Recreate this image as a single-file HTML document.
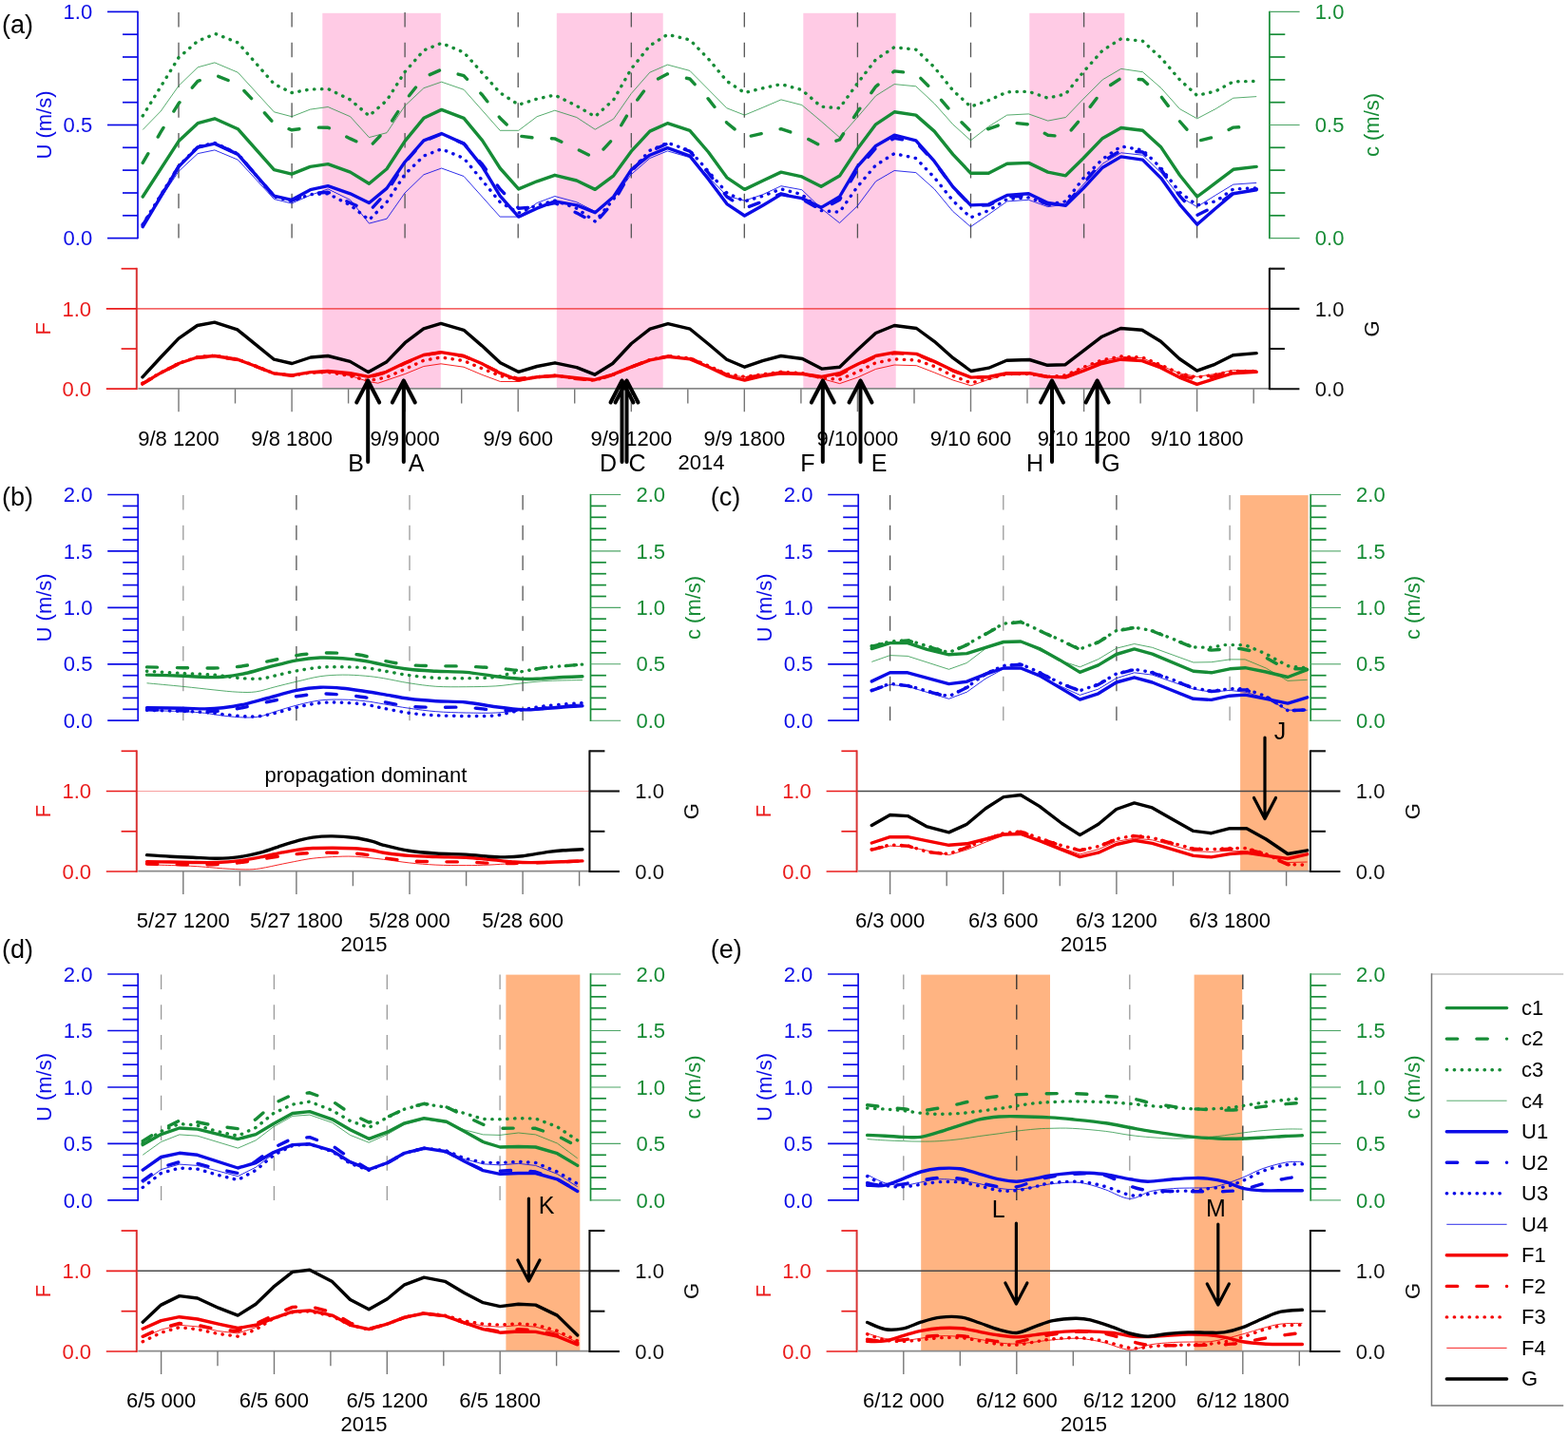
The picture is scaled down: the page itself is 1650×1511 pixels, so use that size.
<!DOCTYPE html>
<html lang="en"><head><meta charset="utf-8"><title>Figure</title>
<style>html,body{margin:0;padding:0;background:#fff;overflow:hidden;}svg{display:block;}</style></head>
<body>
<svg width="1650" height="1511" viewBox="0 0 1650 1511" font-family="'Liberation Sans', sans-serif">
<rect width="1650" height="1511" fill="#fff"/>
<g id="panel-a">
<rect x="339.3" y="13.8" width="124.5" height="394.6" fill="#ffcbe5"/>
<rect x="585.8" y="13.8" width="111.9" height="394.6" fill="#ffcbe5"/>
<rect x="845.3" y="13.8" width="97.4" height="394.6" fill="#ffcbe5"/>
<rect x="1083.3" y="13.8" width="100.0" height="394.6" fill="#ffcbe5"/>
<line x1="188.0" y1="12.9" x2="188.0" y2="250.6" stroke="#555" stroke-width="1.3" stroke-dasharray="15.5 16.3"/>
<line x1="307.1" y1="12.9" x2="307.1" y2="250.6" stroke="#555" stroke-width="1.3" stroke-dasharray="15.5 16.3"/>
<line x1="426.1" y1="12.9" x2="426.1" y2="250.6" stroke="#555" stroke-width="1.3" stroke-dasharray="15.5 16.3"/>
<line x1="545.2" y1="12.9" x2="545.2" y2="250.6" stroke="#555" stroke-width="1.3" stroke-dasharray="15.5 16.3"/>
<line x1="664.3" y1="12.9" x2="664.3" y2="250.6" stroke="#555" stroke-width="1.3" stroke-dasharray="15.5 16.3"/>
<line x1="783.3" y1="12.9" x2="783.3" y2="250.6" stroke="#555" stroke-width="1.3" stroke-dasharray="15.5 16.3"/>
<line x1="902.4" y1="12.9" x2="902.4" y2="250.6" stroke="#555" stroke-width="1.3" stroke-dasharray="15.5 16.3"/>
<line x1="1021.5" y1="12.9" x2="1021.5" y2="250.6" stroke="#555" stroke-width="1.3" stroke-dasharray="15.5 16.3"/>
<line x1="1140.6" y1="12.9" x2="1140.6" y2="250.6" stroke="#555" stroke-width="1.3" stroke-dasharray="15.5 16.3"/>
<line x1="1259.6" y1="12.9" x2="1259.6" y2="250.6" stroke="#555" stroke-width="1.3" stroke-dasharray="15.5 16.3"/>
<line x1="145.3" y1="408.9" x2="1335.9" y2="408.9" stroke="#8a8a8a" stroke-width="1.7" />
<line x1="188.0" y1="409.2" x2="188.0" y2="433.2" stroke="#777" stroke-width="1.4" />
<line x1="247.5" y1="409.2" x2="247.5" y2="424.5" stroke="#777" stroke-width="1.4" />
<line x1="307.1" y1="409.2" x2="307.1" y2="433.2" stroke="#777" stroke-width="1.4" />
<line x1="366.6" y1="409.2" x2="366.6" y2="424.5" stroke="#777" stroke-width="1.4" />
<line x1="426.1" y1="409.2" x2="426.1" y2="433.2" stroke="#777" stroke-width="1.4" />
<line x1="485.7" y1="409.2" x2="485.7" y2="424.5" stroke="#777" stroke-width="1.4" />
<line x1="545.2" y1="409.2" x2="545.2" y2="433.2" stroke="#777" stroke-width="1.4" />
<line x1="604.7" y1="409.2" x2="604.7" y2="424.5" stroke="#777" stroke-width="1.4" />
<line x1="664.3" y1="409.2" x2="664.3" y2="433.2" stroke="#777" stroke-width="1.4" />
<line x1="723.8" y1="409.2" x2="723.8" y2="424.5" stroke="#777" stroke-width="1.4" />
<line x1="783.3" y1="409.2" x2="783.3" y2="433.2" stroke="#777" stroke-width="1.4" />
<line x1="842.9" y1="409.2" x2="842.9" y2="424.5" stroke="#777" stroke-width="1.4" />
<line x1="902.4" y1="409.2" x2="902.4" y2="433.2" stroke="#777" stroke-width="1.4" />
<line x1="962.0" y1="409.2" x2="962.0" y2="424.5" stroke="#777" stroke-width="1.4" />
<line x1="1021.5" y1="409.2" x2="1021.5" y2="433.2" stroke="#777" stroke-width="1.4" />
<line x1="1081.0" y1="409.2" x2="1081.0" y2="424.5" stroke="#777" stroke-width="1.4" />
<line x1="1140.6" y1="409.2" x2="1140.6" y2="433.2" stroke="#777" stroke-width="1.4" />
<line x1="1200.1" y1="409.2" x2="1200.1" y2="424.5" stroke="#777" stroke-width="1.4" />
<line x1="1259.6" y1="409.2" x2="1259.6" y2="433.2" stroke="#777" stroke-width="1.4" />
<line x1="1319.2" y1="409.2" x2="1319.2" y2="424.5" stroke="#777" stroke-width="1.4" />
<line x1="143.8" y1="324.9" x2="1335.9" y2="324.9" stroke="#f03030" stroke-width="1.2" />
<path d="M150.2,136.5 L169.2,117.0 L188.0,90.3 L208.1,70.8 L225.9,65.9 L250.3,76.2 L288.4,117.8 L307.0,122.7 L326.5,115.1 L345.1,112.5 L368.6,122.7 L388.4,144.6 L407.0,139.7 L426.0,111.4 L445.9,92.7 L464.6,86.2 L488.1,94.3 L526.2,137.3 L545.7,137.3 L565.1,122.7 L583.8,116.2 L606.8,123.5 L626.2,136.2 L645.7,125.1 L664.3,98.4 L683.8,76.2 L702.4,68.1 L725.9,74.4 L764.9,113.8 L783.5,121.1 L803.0,113.0 L821.9,104.9 L843.8,110.5 L864.1,127.6 L883.5,144.6 L902.2,123.5 L921.6,100.8 L941.1,88.6 L963.8,90.8 L983.2,108.9 L1002.7,130.8 L1021.4,147.8 L1040.3,133.2 L1059.7,121.1 L1082.4,119.9 L1102.7,127.1 L1121.4,123.5 L1140.0,104.1 L1160.3,83.8 L1179.7,72.4 L1202.4,75.7 L1221.9,92.7 L1241.4,114.6 L1259.7,124.8 L1279.2,114.6 L1297.8,103.2 L1322.2,101.6" fill="none" stroke="#168c36" stroke-width="1.0" stroke-linejoin="round" stroke-opacity="0.72"/>
<path d="M150.2,207.0 L188.0,148.6 L208.1,129.7 L225.9,124.8 L250.3,135.7 L288.4,178.6 L307.0,183.2 L326.5,175.4 L345.1,172.6 L368.6,181.1 L388.4,193.2 L407.0,177.8 L426.0,148.6 L445.9,124.3 L464.6,115.4 L488.1,124.3 L507.6,147.8 L526.2,177.0 L545.7,198.9 L565.1,190.8 L583.8,184.3 L606.8,190.0 L626.2,199.4 L645.7,184.8 L664.3,159.2 L683.8,138.1 L702.4,129.7 L725.9,137.3 L745.4,160.0 L764.9,186.8 L783.5,199.4 L803.0,190.0 L821.9,181.1 L843.8,185.9 L864.1,196.2 L883.5,185.1 L902.2,156.8 L921.6,130.8 L941.1,117.8 L963.8,121.1 L983.2,138.1 L1002.7,162.4 L1021.4,182.2 L1040.3,182.2 L1059.7,172.2 L1082.4,171.4 L1102.7,181.1 L1121.4,184.8 L1140.0,166.5 L1160.3,145.4 L1179.7,134.5 L1202.4,137.3 L1221.9,155.1 L1241.4,184.3 L1259.7,207.0 L1279.2,192.4 L1297.8,178.3 L1322.2,175.4" fill="none" stroke="#168c36" stroke-width="3.4" stroke-linejoin="round" stroke-linecap="round"/>
<path d="M150.2,171.4 L169.2,138.9 L188.0,108.9 L208.1,85.4 L226.8,79.2 L250.3,88.6 L268.9,108.1 L288.4,130.0 L307.0,136.8 L326.5,134.1 L345.1,134.2 L368.6,145.9 L388.4,155.1 L407.0,135.7 L426.0,106.5 L445.9,81.4 L464.6,73.2 L488.1,79.7 L507.6,100.0 L526.2,124.3 L545.7,143.0 L565.1,145.4 L583.8,145.9 L606.8,156.8 L626.2,166.5 L645.7,145.4 L664.3,113.8 L683.8,87.5 L702.4,77.8 L725.9,83.0 L745.4,104.1 L764.9,129.2 L783.5,144.6 L803.0,140.2 L821.9,135.7 L843.8,143.0 L864.1,153.5 L883.5,147.0 L902.2,117.8 L921.6,91.1 L941.1,74.9 L963.8,77.3 L983.2,96.8 L1002.7,119.5 L1021.4,138.1 L1040.3,135.7 L1059.7,128.7 L1082.4,130.8 L1102.7,142.2 L1121.4,143.8 L1140.0,121.9 L1160.3,95.1 L1179.7,82.2 L1202.4,83.8 L1221.9,101.6 L1241.4,127.6 L1259.7,148.6 L1279.2,143.8 L1297.8,134.1 L1322.2,132.9" fill="none" stroke="#168c36" stroke-width="3.4" stroke-linejoin="round" stroke-dasharray="11.2 20.5" stroke-linecap="round"/>
<path d="M150.2,121.9 L188.0,60.6 L208.1,43.2 L226.8,35.6 L250.3,44.9 L288.4,88.3 L307.0,97.6 L326.5,94.0 L345.1,93.5 L368.6,104.9 L388.4,121.9 L407.0,105.7 L426.0,75.7 L445.9,53.0 L464.6,45.4 L488.1,55.1 L526.2,97.6 L545.7,110.2 L565.1,104.1 L583.8,100.0 L606.8,111.4 L626.2,122.7 L645.7,104.9 L664.3,72.4 L683.8,48.1 L702.4,36.3 L725.9,41.9 L745.4,61.9 L764.9,85.4 L783.5,97.6 L803.0,92.7 L821.9,88.6 L843.8,94.6 L864.1,112.2 L883.5,113.8 L902.2,87.8 L921.6,62.7 L941.1,49.7 L963.8,52.2 L983.2,70.8 L1002.7,95.1 L1021.4,112.2 L1040.3,105.7 L1059.7,96.8 L1082.4,96.3 L1102.7,103.2 L1121.4,98.9 L1140.0,75.7 L1160.3,53.0 L1179.7,40.8 L1202.4,43.2 L1221.9,61.1 L1241.4,83.8 L1259.7,100.5 L1279.2,95.9 L1297.8,85.9 L1322.2,85.4" fill="none" stroke="#168c36" stroke-width="3.4" stroke-linejoin="round" stroke-dasharray="0.4 7.55" stroke-linecap="round"/>
<path d="M150.2,237.0 L188.0,180.3 L208.1,161.6 L225.9,157.9 L250.3,168.1 L288.4,209.5 L307.0,214.0 L326.5,205.4 L345.1,198.9 L368.6,210.3 L388.4,235.1 L407.0,230.2 L426.0,203.0 L445.9,183.8 L464.6,177.0 L488.1,185.5 L526.2,228.1 L545.7,228.1 L565.1,213.5 L583.8,206.5 L606.8,212.7 L626.2,222.4 L645.7,208.6 L664.3,183.5 L683.8,166.5 L702.4,158.9 L725.9,165.7 L764.9,206.2 L783.5,211.1 L803.0,204.6 L821.9,195.7 L843.8,199.7 L864.1,219.2 L883.5,234.6 L902.2,216.8 L921.6,190.8 L941.1,179.5 L963.8,181.6 L983.2,198.9 L1002.7,222.4 L1021.4,238.6 L1040.3,225.7 L1059.7,211.9 L1082.4,210.3 L1102.7,217.6 L1121.4,215.1 L1140.0,194.1 L1160.3,172.2 L1179.7,160.8 L1202.4,163.2 L1221.9,181.9 L1241.4,207.0 L1259.7,217.6 L1279.2,205.4 L1297.8,194.1 L1322.2,192.4" fill="none" stroke="#0c0ce6" stroke-width="1.0" stroke-linejoin="round" stroke-opacity="0.85"/>
<path d="M150.2,238.6 L188.0,175.4 L208.1,155.1 L225.9,151.1 L250.3,162.4 L288.4,206.2 L307.0,210.3 L326.5,199.7 L345.1,195.7 L368.6,203.8 L388.4,213.5 L407.0,198.1 L426.0,170.5 L445.9,147.8 L464.6,140.5 L488.1,151.1 L507.6,175.4 L526.2,206.2 L545.7,228.1 L565.1,219.2 L583.8,211.9 L606.8,215.9 L626.2,223.7 L645.7,207.0 L664.3,178.6 L683.8,163.2 L702.4,155.6 L725.9,164.1 L745.4,188.4 L764.9,214.6 L783.5,227.0 L803.0,215.9 L821.9,204.6 L843.8,208.6 L864.1,218.4 L883.5,207.0 L902.2,175.4 L921.6,153.5 L941.1,142.2 L963.8,147.8 L983.2,169.7 L1002.7,196.5 L1021.4,215.9 L1040.3,215.1 L1059.7,205.4 L1082.4,203.8 L1102.7,213.5 L1121.4,216.3 L1140.0,198.1 L1160.3,176.2 L1179.7,164.9 L1202.4,168.1 L1221.9,187.6 L1241.4,215.1 L1259.7,236.2 L1279.2,219.2 L1297.8,203.8 L1322.2,199.7" fill="none" stroke="#0c0ce6" stroke-width="3.4" stroke-linejoin="round" stroke-linecap="round"/>
<path d="M150.2,237.0 L188.0,175.1 L208.1,154.8 L225.9,150.8 L250.3,162.1 L288.4,206.5 L307.0,211.1 L326.5,203.8 L345.1,202.2 L368.6,213.5 L388.4,222.4 L407.0,202.2 L426.0,171.4 L445.9,148.6 L464.6,141.0 L488.1,151.1 L507.6,173.0 L526.2,198.9 L545.7,219.2 L565.1,217.6 L583.8,213.5 L606.8,224.1 L626.2,234.6 L645.7,212.7 L664.3,180.3 L683.8,159.2 L702.4,151.1 L725.9,159.2 L745.4,181.9 L764.9,207.0 L783.5,219.2 L803.0,211.9 L821.9,203.8 L843.8,209.5 L864.1,220.8 L883.5,210.3 L902.2,178.6 L921.6,155.9 L941.1,145.4 L963.8,149.5 L983.2,170.5 L1002.7,196.8 L1021.4,216.3 L1040.3,215.9 L1059.7,207.0 L1082.4,206.2 L1102.7,215.1 L1121.4,215.9 L1140.0,193.2 L1160.3,169.7 L1179.7,158.4 L1202.4,160.0 L1221.9,178.6 L1241.4,206.2 L1259.7,226.5 L1279.2,216.8 L1297.8,203.0 L1322.2,198.9" fill="none" stroke="#0c0ce6" stroke-width="3.4" stroke-linejoin="round" stroke-dasharray="11.2 20.5" stroke-linecap="round"/>
<path d="M150.2,236.2 L188.0,174.8 L208.1,154.3 L225.9,150.4 L250.3,161.8 L288.4,206.9 L307.0,211.6 L326.5,204.6 L345.1,203.8 L368.6,215.9 L388.4,231.4 L407.0,212.7 L426.0,183.5 L445.9,164.1 L464.6,156.8 L488.1,166.5 L507.6,190.0 L526.2,212.7 L545.7,224.1 L565.1,215.9 L583.8,211.1 L606.8,219.2 L626.2,233.0 L645.7,209.5 L664.3,179.5 L683.8,158.4 L702.4,150.3 L725.9,158.4 L745.4,180.3 L764.9,203.0 L783.5,211.9 L803.0,206.2 L821.9,198.9 L843.8,204.6 L864.1,221.6 L883.5,223.2 L902.2,196.5 L921.6,173.8 L941.1,161.6 L963.8,166.5 L983.2,186.8 L1002.7,211.1 L1021.4,228.9 L1040.3,221.6 L1059.7,209.5 L1082.4,207.8 L1102.7,215.1 L1121.4,211.9 L1140.0,187.6 L1160.3,167.3 L1179.7,154.0 L1202.4,157.9 L1221.9,177.0 L1241.4,202.2 L1259.7,215.9 L1279.2,211.9 L1297.8,198.9 L1322.2,197.8" fill="none" stroke="#0c0ce6" stroke-width="3.4" stroke-linejoin="round" stroke-dasharray="0.4 7.55" stroke-linecap="round"/>
<path d="M149.9,403.5 L169.1,392.6 L188.0,383.0 L207.6,376.4 L225.8,375.0 L249.8,378.5 L269.5,385.7 L288.4,393.5 L307.3,395.3 L326.9,392.3 L345.1,391.6 L368.4,395.3 L387.6,401.5 L397.8,403.2 L426.2,393.5 L445.8,385.5 L464.0,382.8 L488.0,386.2 L506.9,394.2 L526.5,401.5 L545.5,401.5 L565.1,397.1 L584.0,395.6 L606.9,398.0 L625.8,400.0 L644.7,394.5 L664.4,386.3 L684.0,379.1 L702.9,375.4 L726.2,377.6 L745.8,385.7 L764.7,394.2 L783.6,396.8 L802.5,393.6 L821.8,391.0 L844.4,392.4 L864.7,398.5 L883.6,403.6 L902.5,397.1 L921.5,388.4 L941.1,384.0 L964.4,384.7 L983.3,392.0 L1002.9,400.0 L1021.8,405.8 L1040.4,399.3 L1059.3,393.9 L1083.3,393.7 L1102.2,396.7 L1121.1,395.3 L1140.7,386.9 L1159.6,379.6 L1179.3,375.7 L1201.8,376.7 L1221.5,384.7 L1241.1,392.7 L1259.6,396.4 L1278.5,393.5 L1297.5,389.5 L1322.2,389.8" fill="none" stroke="#f40000" stroke-width="1.0" stroke-linejoin="round" stroke-opacity="0.85"/>
<path d="M149.9,403.6 L169.1,392.4 L188.0,382.5 L207.6,376.0 L225.8,374.5 L249.8,378.2 L269.5,385.5 L288.4,393.0 L307.3,394.9 L326.9,391.6 L345.1,390.5 L368.4,392.7 L387.6,396.4 L406.5,391.3 L426.2,381.8 L445.8,373.5 L464.0,370.6 L488.0,374.5 L506.9,382.5 L526.5,392.7 L545.5,400.0 L565.1,396.8 L584.0,395.3 L606.9,397.8 L625.8,399.7 L644.7,394.2 L664.4,386.2 L684.0,378.9 L702.9,375.3 L726.2,377.9 L745.8,386.2 L764.7,395.3 L783.6,400.0 L802.5,395.6 L821.8,392.7 L844.4,393.5 L864.7,396.4 L883.6,392.7 L902.5,383.3 L921.5,374.5 L941.1,370.9 L964.4,372.4 L983.3,380.4 L1002.9,389.8 L1021.8,397.1 L1040.4,396.4 L1059.3,392.7 L1083.3,392.7 L1102.2,396.4 L1121.1,397.1 L1140.7,389.8 L1159.6,382.5 L1179.3,378.2 L1201.8,379.6 L1221.5,386.9 L1241.1,397.1 L1259.6,404.4 L1278.5,398.5 L1297.5,392.7 L1322.2,391.3" fill="none" stroke="#f40000" stroke-width="3.4" stroke-linejoin="round" stroke-linecap="round"/>
<path d="M149.9,404.1 L169.1,392.7 L188.0,382.8 L207.6,376.3 L225.8,374.8 L249.8,378.5 L269.5,385.7 L288.4,393.3 L307.3,395.2 L326.9,392.0 L345.1,391.0 L368.4,393.5 L387.6,397.1 L406.5,391.9 L426.2,382.3 L445.8,373.8 L464.0,370.9 L488.0,374.8 L506.9,382.8 L526.5,392.4 L545.5,398.5 L565.1,396.5 L584.0,395.6 L606.9,398.5 L625.8,400.4 L644.7,394.5 L664.4,386.2 L684.0,378.6 L702.9,374.8 L726.2,377.2 L745.8,385.5 L764.7,394.2 L783.6,397.8 L802.5,394.5 L821.8,392.3 L844.4,393.5 L864.7,397.1 L883.6,394.2 L902.5,384.3 L921.5,375.3 L941.1,371.6 L964.4,372.9 L983.3,380.8 L1002.9,390.1 L1021.8,397.4 L1040.4,396.7 L1059.3,393.2 L1083.3,393.2 L1102.2,396.5 L1121.1,396.7 L1140.7,388.7 L1159.6,381.1 L1179.3,376.7 L1201.8,377.9 L1221.5,385.5 L1241.1,394.9 L1259.6,399.3 L1278.5,395.6 L1297.5,391.3 L1322.2,391.0" fill="none" stroke="#f40000" stroke-width="3.4" stroke-linejoin="round" stroke-dasharray="11.2 20.5" stroke-linecap="round"/>
<path d="M149.9,403.2 L169.1,392.1 L188.0,382.3 L207.6,375.7 L225.8,374.1 L249.8,377.9 L269.5,385.2 L288.4,393.0 L307.3,395.2 L326.9,392.1 L345.1,391.6 L368.4,395.6 L387.6,400.7 L406.5,397.1 L426.2,388.4 L445.8,379.3 L464.0,376.0 L488.0,379.6 L506.9,387.6 L526.5,395.6 L545.5,399.3 L565.1,396.7 L584.0,395.2 L606.9,398.3 L625.8,400.3 L644.7,394.3 L664.4,386.0 L684.0,378.5 L702.9,374.7 L726.2,376.9 L745.8,385.0 L764.7,393.5 L783.6,396.4 L802.5,393.9 L821.8,391.3 L844.4,392.7 L864.7,397.8 L883.6,399.3 L902.5,391.3 L921.5,381.8 L941.1,377.9 L964.4,378.9 L983.3,385.5 L1002.9,395.6 L1021.8,402.9 L1040.4,398.5 L1059.3,393.5 L1083.3,393.5 L1102.2,396.4 L1121.1,394.9 L1140.7,386.2 L1159.6,378.9 L1179.3,375.0 L1201.8,376.0 L1221.5,384.0 L1241.1,392.7 L1259.6,397.1 L1278.5,394.2 L1297.5,390.5 L1322.2,390.5" fill="none" stroke="#f40000" stroke-width="3.4" stroke-linejoin="round" stroke-dasharray="0.4 7.55" stroke-linecap="round"/>
<path d="M149.9,396.8 L169.1,376.0 L188.0,356.1 L207.6,342.5 L225.8,339.2 L249.8,346.9 L269.5,362.9 L288.4,378.2 L307.3,382.5 L326.9,376.0 L345.1,374.5 L368.4,380.4 L387.6,391.6 L406.5,381.1 L426.2,360.7 L445.8,345.9 L464.0,340.4 L488.0,347.3 L506.9,363.6 L526.5,381.8 L545.5,391.3 L565.1,385.5 L584.0,381.8 L606.9,386.6 L625.8,394.2 L644.7,382.5 L664.4,361.5 L684.0,346.2 L702.9,340.7 L726.2,346.2 L745.8,362.2 L764.7,378.2 L783.6,386.2 L802.5,379.6 L821.8,374.5 L844.4,377.5 L864.7,388.1 L883.6,386.2 L902.5,368.0 L921.5,350.5 L941.1,342.5 L964.4,345.5 L983.3,359.3 L1002.9,376.7 L1021.8,390.5 L1040.4,387.2 L1059.3,379.3 L1083.3,378.5 L1102.2,384.3 L1121.1,383.7 L1140.7,368.7 L1159.6,354.2 L1179.3,345.5 L1201.8,347.3 L1221.5,359.3 L1241.1,377.5 L1259.6,390.1 L1278.5,383.3 L1297.5,373.8 L1322.2,371.6" fill="none" stroke="#000000" stroke-width="3.4" stroke-linejoin="round" stroke-linecap="round"/>
<line x1="145.0" y1="11.7" x2="145.0" y2="251.3" stroke="#0c0ce6" stroke-width="1.7" />
<line x1="145.0" y1="250.6" x2="113.0" y2="250.6" stroke="#0c0ce6" stroke-width="1.7" />
<line x1="145.0" y1="226.8" x2="129.0" y2="226.8" stroke="#0c0ce6" stroke-width="1.7" />
<line x1="145.0" y1="203.0" x2="129.0" y2="203.0" stroke="#0c0ce6" stroke-width="1.7" />
<line x1="145.0" y1="179.1" x2="129.0" y2="179.1" stroke="#0c0ce6" stroke-width="1.7" />
<line x1="145.0" y1="155.3" x2="129.0" y2="155.3" stroke="#0c0ce6" stroke-width="1.7" />
<line x1="145.0" y1="131.5" x2="113.0" y2="131.5" stroke="#0c0ce6" stroke-width="1.7" />
<line x1="145.0" y1="107.7" x2="129.0" y2="107.7" stroke="#0c0ce6" stroke-width="1.7" />
<line x1="145.0" y1="83.9" x2="129.0" y2="83.9" stroke="#0c0ce6" stroke-width="1.7" />
<line x1="145.0" y1="60.0" x2="129.0" y2="60.0" stroke="#0c0ce6" stroke-width="1.7" />
<line x1="145.0" y1="36.2" x2="129.0" y2="36.2" stroke="#0c0ce6" stroke-width="1.7" />
<line x1="145.0" y1="12.4" x2="113.0" y2="12.4" stroke="#0c0ce6" stroke-width="1.7" />
<text transform="translate(97.2,258.2) scale(1,1.03)" fill="#0c0ce6" font-size="22" text-anchor="end">0.0</text>
<text transform="translate(97.2,139.2) scale(1,1.03)" fill="#0c0ce6" font-size="22" text-anchor="end">0.5</text>
<text transform="translate(97.2,20.1) scale(1,1.03)" fill="#0c0ce6" font-size="22" text-anchor="end">1.0</text>
<text transform="translate(54.0,131.5) rotate(-90) scale(1,1.03)" fill="#0c0ce6" font-size="22" text-anchor="middle">U (m/s)</text>
<line x1="1335.9" y1="11.7" x2="1335.9" y2="251.3" stroke="#168c36" stroke-width="1.7" />
<line x1="1335.9" y1="250.6" x2="1367.6" y2="250.6" stroke="#4da566" stroke-width="1.1" />
<line x1="1335.9" y1="226.8" x2="1352.3" y2="226.8" stroke="#168c36" stroke-width="1.7" />
<line x1="1335.9" y1="203.0" x2="1352.3" y2="203.0" stroke="#168c36" stroke-width="1.7" />
<line x1="1335.9" y1="179.1" x2="1352.3" y2="179.1" stroke="#168c36" stroke-width="1.7" />
<line x1="1335.9" y1="155.3" x2="1352.3" y2="155.3" stroke="#168c36" stroke-width="1.7" />
<line x1="1335.9" y1="131.5" x2="1367.6" y2="131.5" stroke="#4da566" stroke-width="1.1" />
<line x1="1335.9" y1="107.7" x2="1352.3" y2="107.7" stroke="#168c36" stroke-width="1.7" />
<line x1="1335.9" y1="83.9" x2="1352.3" y2="83.9" stroke="#168c36" stroke-width="1.7" />
<line x1="1335.9" y1="60.0" x2="1352.3" y2="60.0" stroke="#168c36" stroke-width="1.7" />
<line x1="1335.9" y1="36.2" x2="1352.3" y2="36.2" stroke="#168c36" stroke-width="1.7" />
<line x1="1335.9" y1="12.4" x2="1367.6" y2="12.4" stroke="#4da566" stroke-width="1.1" />
<text transform="translate(1383.8,258.2) scale(1,1.03)" fill="#168c36" font-size="22" text-anchor="start">0.0</text>
<text transform="translate(1383.8,139.2) scale(1,1.03)" fill="#168c36" font-size="22" text-anchor="start">0.5</text>
<text transform="translate(1383.8,20.1) scale(1,1.03)" fill="#168c36" font-size="22" text-anchor="start">1.0</text>
<text transform="translate(1450.9,131.5) rotate(-90) scale(1,1.03)" fill="#168c36" font-size="22" text-anchor="middle">c (m/s)</text>
<line x1="143.8" y1="281.8" x2="143.8" y2="410.1" stroke="#d83434" stroke-width="2.0" />
<line x1="143.8" y1="409.2" x2="111.8" y2="409.2" stroke="#ea1c1c" stroke-width="1.7" />
<line x1="143.8" y1="367.0" x2="127.6" y2="367.0" stroke="#ea1c1c" stroke-width="1.7" />
<line x1="143.8" y1="324.9" x2="111.8" y2="324.9" stroke="#ea1c1c" stroke-width="1.7" />
<line x1="143.8" y1="282.7" x2="127.6" y2="282.7" stroke="#ea1c1c" stroke-width="1.7" />
<text transform="translate(96.0,416.8) scale(1,1.03)" fill="#ea1c1c" font-size="22" text-anchor="end">0.0</text>
<text transform="translate(96.0,332.5) scale(1,1.03)" fill="#ea1c1c" font-size="22" text-anchor="end">1.0</text>
<text transform="translate(52.8,345.9) rotate(-90) scale(1,1.03)" fill="#ea1c1c" font-size="22" text-anchor="middle">F</text>
<line x1="1335.9" y1="281.8" x2="1335.9" y2="410.1" stroke="#111" stroke-width="2.1" />
<line x1="1335.9" y1="409.2" x2="1367.4" y2="409.2" stroke="#111" stroke-width="2.1" />
<line x1="1335.9" y1="367.0" x2="1351.9" y2="367.0" stroke="#111" stroke-width="2.1" />
<line x1="1335.9" y1="324.9" x2="1367.4" y2="324.9" stroke="#111" stroke-width="2.1" />
<line x1="1335.9" y1="282.7" x2="1351.9" y2="282.7" stroke="#111" stroke-width="2.1" />
<text transform="translate(1383.8,416.8) scale(1,1.03)" fill="#111" font-size="22" text-anchor="start">0.0</text>
<text transform="translate(1383.8,332.5) scale(1,1.03)" fill="#111" font-size="22" text-anchor="start">1.0</text>
<text transform="translate(1450.9,345.9) rotate(-90) scale(1,1.03)" fill="#111" font-size="22" text-anchor="middle">G</text>
<text transform="translate(188.0,468.5) scale(1,1.03)" fill="#000" font-size="22" text-anchor="middle">9/8 1200</text>
<text transform="translate(307.1,468.5) scale(1,1.03)" fill="#000" font-size="22" text-anchor="middle">9/8 1800</text>
<text transform="translate(426.1,468.5) scale(1,1.03)" fill="#000" font-size="22" text-anchor="middle">9/9 000</text>
<text transform="translate(545.2,468.5) scale(1,1.03)" fill="#000" font-size="22" text-anchor="middle">9/9 600</text>
<text transform="translate(664.3,468.5) scale(1,1.03)" fill="#000" font-size="22" text-anchor="middle">9/9 1200</text>
<text transform="translate(783.3,468.5) scale(1,1.03)" fill="#000" font-size="22" text-anchor="middle">9/9 1800</text>
<text transform="translate(902.4,468.5) scale(1,1.03)" fill="#000" font-size="22" text-anchor="middle">9/10 000</text>
<text transform="translate(1021.5,468.5) scale(1,1.03)" fill="#000" font-size="22" text-anchor="middle">9/10 600</text>
<text transform="translate(1140.6,468.5) scale(1,1.03)" fill="#000" font-size="22" text-anchor="middle">9/10 1200</text>
<text transform="translate(1259.6,468.5) scale(1,1.03)" fill="#000" font-size="22" text-anchor="middle">9/10 1800</text>
<text transform="translate(738.0,494.1) scale(1,1.03)" fill="#000" font-size="22" text-anchor="middle">2014</text>
<text transform="translate(2.0,35.0) scale(1,1.0)" fill="#000" font-size="27" text-anchor="start">(a)</text>
</g>
<g id="panel-b">
<line x1="192.8" y1="521.0" x2="192.8" y2="758.2" stroke="#9a9a9a" stroke-width="1.3" stroke-dasharray="15.5 16.3"/>
<line x1="311.9" y1="521.0" x2="311.9" y2="758.2" stroke="#555" stroke-width="1.3" stroke-dasharray="15.5 16.3"/>
<line x1="431.0" y1="521.0" x2="431.0" y2="758.2" stroke="#9a9a9a" stroke-width="1.3" stroke-dasharray="15.5 16.3"/>
<line x1="550.1" y1="521.0" x2="550.1" y2="758.2" stroke="#555" stroke-width="1.3" stroke-dasharray="15.5 16.3"/>
<line x1="145.3" y1="916.7" x2="620.4" y2="916.7" stroke="#8a8a8a" stroke-width="1.7" />
<line x1="192.8" y1="917.0" x2="192.8" y2="941.0" stroke="#777" stroke-width="1.4" />
<line x1="252.4" y1="917.0" x2="252.4" y2="932.3" stroke="#777" stroke-width="1.4" />
<line x1="311.9" y1="917.0" x2="311.9" y2="941.0" stroke="#777" stroke-width="1.4" />
<line x1="371.4" y1="917.0" x2="371.4" y2="932.3" stroke="#777" stroke-width="1.4" />
<line x1="431.0" y1="917.0" x2="431.0" y2="941.0" stroke="#777" stroke-width="1.4" />
<line x1="490.6" y1="917.0" x2="490.6" y2="932.3" stroke="#777" stroke-width="1.4" />
<line x1="550.1" y1="917.0" x2="550.1" y2="941.0" stroke="#777" stroke-width="1.4" />
<line x1="609.6" y1="917.0" x2="609.6" y2="932.3" stroke="#777" stroke-width="1.4" />
<line x1="143.8" y1="832.5" x2="620.4" y2="832.5" stroke="#f7a0a0" stroke-width="1.2" />
<path d="M154.5,718.8 C160.9,719.4 181.0,721.2 192.8,722.4 C204.6,723.6 215.5,724.9 225.1,725.9 C234.7,726.9 243.0,727.9 250.3,728.2 C257.7,728.5 262.6,728.8 269.2,727.9 C275.8,727.0 282.5,724.5 289.7,722.7 C296.9,720.9 304.2,719.0 312.1,717.2 C320.0,715.4 328.9,712.9 337.0,711.7 C345.1,710.5 352.7,710.2 360.6,710.1 C368.5,710.0 377.0,710.6 384.2,711.2 C391.4,711.8 395.9,712.4 403.6,713.7 C411.4,715.0 421.5,717.4 430.7,718.8 C439.9,720.2 448.9,721.6 458.8,722.3 C468.7,722.9 479.8,722.8 490.3,722.7 C500.8,722.6 511.9,722.5 521.8,721.9 C531.7,721.2 540.7,719.7 549.9,718.8 C559.1,717.9 566.5,716.9 577.0,716.4 C587.5,715.9 606.9,715.7 612.9,715.6" fill="none" stroke="#168c36" stroke-width="1.0" stroke-linejoin="round" stroke-opacity="0.72"/>
<path d="M154.5,710.1 C160.9,710.3 182.6,710.8 192.8,711.2 C203.0,711.6 208.7,712.3 215.6,712.5 C222.5,712.7 227.4,712.9 234.5,712.2 C241.6,711.5 250.3,710.2 258.2,708.5 C266.1,706.8 272.8,704.5 281.8,702.2 C290.8,699.9 302.9,696.5 312.1,694.8 C321.3,693.1 328.9,692.3 337.0,692.0 C345.1,691.7 352.7,692.2 360.6,692.8 C368.5,693.4 377.0,694.4 384.2,695.5 C391.4,696.6 395.9,698.1 403.6,699.6 C411.4,701.1 421.5,703.2 430.7,704.3 C439.9,705.4 448.9,705.7 458.8,706.2 C468.7,706.7 479.8,706.5 490.3,707.4 C500.8,708.3 511.9,710.5 521.8,711.7 C531.7,712.9 542.0,714.0 549.9,714.4 C557.8,714.8 562.0,714.4 569.1,714.1 C576.2,713.8 585.4,712.9 592.7,712.5 C600.0,712.1 609.5,711.8 612.9,711.7" fill="none" stroke="#168c36" stroke-width="3.4" stroke-linejoin="round" stroke-linecap="round"/>
<path d="M154.5,701.9 C160.9,702.0 181.0,702.5 192.8,702.7 C204.6,702.9 215.5,703.2 225.1,703.0 C234.7,702.8 240.9,702.7 250.3,701.5 C259.8,700.3 271.5,697.9 281.8,695.9 C292.1,693.9 301.6,691.1 312.1,689.6 C322.6,688.1 334.1,687.1 344.8,687.0 C355.5,686.9 366.6,687.4 376.4,688.8 C386.2,690.2 394.6,693.4 403.6,695.2 C412.7,697.0 421.5,698.7 430.7,699.6 C439.9,700.5 448.9,700.5 458.8,700.7 C468.7,701.0 479.8,700.7 490.3,701.1 C500.8,701.5 511.9,702.3 521.8,703.0 C531.7,703.7 540.7,705.5 549.9,705.4 C559.1,705.3 566.5,703.2 577.0,702.2 C587.5,701.2 606.9,699.6 612.9,699.1" fill="none" stroke="#168c36" stroke-width="3.4" stroke-linejoin="round" stroke-dasharray="11.2 20.5" stroke-linecap="round"/>
<path d="M154.5,706.2 C160.9,706.6 181.0,707.9 192.8,708.5 C204.6,709.1 215.5,709.3 225.1,710.1 C234.7,710.9 242.2,712.6 250.3,713.3 C258.4,714.0 267.3,714.5 273.9,714.1 C280.5,713.7 283.3,712.3 289.7,710.9 C296.1,709.5 304.2,707.3 312.1,705.9 C320.0,704.5 328.9,702.9 337.0,702.2 C345.1,701.5 352.7,701.7 360.6,701.8 C368.5,701.9 377.0,702.0 384.2,702.7 C391.4,703.4 395.9,704.6 403.6,705.9 C411.4,707.2 421.5,709.4 430.7,710.6 C439.9,711.8 448.9,712.8 458.8,713.3 C468.7,713.8 480.3,713.8 490.3,713.7 C500.3,713.6 511.4,713.5 518.7,712.8 C526.1,712.1 529.2,710.3 534.4,709.3 C539.6,708.2 542.8,707.7 549.9,706.5 C557.0,705.3 566.5,703.4 577.0,702.2 C587.5,701.0 606.9,699.6 612.9,699.1" fill="none" stroke="#168c36" stroke-width="3.4" stroke-linejoin="round" stroke-dasharray="0.4 7.55" stroke-linecap="round"/>
<path d="M154.5,747.5 C160.9,747.7 182.6,748.2 192.8,748.7 C203.0,749.2 208.7,749.6 215.6,750.3 C222.5,751.0 227.4,752.3 234.5,753.1 C241.6,753.9 251.6,754.9 258.2,755.0 C264.8,755.1 268.6,754.8 273.9,753.8 C279.1,752.8 283.3,750.7 289.7,748.7 C296.1,746.8 304.2,744.1 312.1,742.1 C320.0,740.1 328.9,737.9 337.0,736.9 C345.1,735.9 352.7,736.0 360.6,736.1 C368.5,736.2 377.0,736.9 384.2,737.7 C391.4,738.5 395.9,739.5 403.6,740.8 C411.4,742.1 421.5,744.0 430.7,745.3 C439.9,746.6 448.9,747.9 458.8,748.7 C468.7,749.5 479.8,749.8 490.3,750.0 C500.8,750.2 511.9,750.5 521.8,750.0 C531.7,749.5 540.7,748.2 549.9,747.2 C559.1,746.2 566.5,745.1 577.0,744.0 C587.5,742.9 606.9,741.3 612.9,740.8" fill="none" stroke="#0c0ce6" stroke-width="1.0" stroke-linejoin="round" stroke-opacity="0.85"/>
<path d="M154.5,744.8 C160.9,744.9 182.6,745.1 192.8,745.3 C203.0,745.5 208.7,746.0 215.6,745.9 C222.5,745.8 227.4,745.6 234.5,744.8 C241.6,743.9 250.3,742.5 258.2,740.8 C266.1,739.1 272.8,736.9 281.8,734.5 C290.8,732.1 302.9,728.3 312.1,726.4 C321.3,724.5 328.9,723.6 337.0,723.2 C345.1,722.9 352.7,723.6 360.6,724.3 C368.5,725.0 377.0,726.5 384.2,727.5 C391.4,728.5 395.9,729.3 403.6,730.6 C411.4,731.9 421.5,734.1 430.7,735.3 C439.9,736.5 448.9,737.1 458.8,737.7 C468.7,738.3 479.8,738.0 490.3,739.0 C500.8,740.0 511.9,742.4 521.8,743.7 C531.7,745.0 542.0,746.4 549.9,746.8 C557.8,747.2 562.0,746.4 569.1,745.9 C576.2,745.4 585.4,744.5 592.7,744.0 C600.0,743.5 609.5,742.9 612.9,742.7" fill="none" stroke="#0c0ce6" stroke-width="3.4" stroke-linejoin="round" stroke-linecap="round"/>
<path d="M154.5,746.8 C160.9,747.0 181.0,747.6 192.8,747.9 C204.6,748.2 215.5,748.8 225.1,748.4 C234.7,748.0 240.9,747.2 250.3,745.6 C259.8,744.0 271.5,740.6 281.8,738.5 C292.1,736.4 302.9,734.1 312.1,732.7 C321.3,731.3 328.9,730.4 337.0,730.1 C345.1,729.8 352.7,730.5 360.6,731.1 C368.5,731.7 377.0,732.6 384.2,733.8 C391.4,735.0 395.9,736.9 403.6,738.5 C411.4,740.1 421.5,742.2 430.7,743.2 C439.9,744.2 448.9,744.1 458.8,744.3 C468.7,744.5 479.8,743.8 490.3,744.3 C500.8,744.8 511.9,746.7 521.8,747.2 C531.7,747.7 540.7,747.6 549.9,747.2 C559.1,746.8 566.5,745.6 577.0,744.8 C587.5,743.9 606.9,742.5 612.9,742.1" fill="none" stroke="#0c0ce6" stroke-width="3.4" stroke-linejoin="round" stroke-dasharray="11.2 20.5" stroke-linecap="round"/>
<path d="M154.5,747.2 C160.9,747.4 182.6,748.0 192.8,748.4 C203.0,748.8 208.7,749.0 215.6,749.5 C222.5,750.0 227.4,750.9 234.5,751.6 C241.6,752.3 251.6,753.5 258.2,753.8 C264.8,754.1 268.6,754.1 273.9,753.5 C279.1,752.9 283.3,751.8 289.7,750.3 C296.1,748.8 304.2,746.1 312.1,744.3 C320.0,742.5 328.9,740.4 337.0,739.6 C345.1,738.8 352.7,739.0 360.6,739.3 C368.5,739.6 377.0,740.2 384.2,741.2 C391.4,742.2 395.9,743.8 403.6,745.3 C411.4,746.8 421.5,749.1 430.7,750.3 C439.9,751.5 448.9,752.2 458.8,752.7 C468.7,753.2 480.3,753.4 490.3,753.5 C500.3,753.6 511.4,753.6 518.7,753.1 C526.1,752.6 529.2,751.3 534.4,750.3 C539.6,749.2 542.8,748.1 549.9,746.8 C557.0,745.5 566.5,743.6 577.0,742.4 C587.5,741.2 606.9,740.1 612.9,739.6" fill="none" stroke="#0c0ce6" stroke-width="3.4" stroke-linejoin="round" stroke-dasharray="0.4 7.55" stroke-linecap="round"/>
<path d="M154.5,909.8 C162.6,910.1 189.7,910.7 203.0,911.4 C216.3,912.1 225.3,913.2 234.5,913.8 C243.7,914.4 251.6,914.9 258.2,914.9 C264.8,914.9 267.3,914.8 273.9,913.8 C280.5,912.8 291.0,910.3 297.6,909.0 C304.2,907.7 308.1,906.9 313.3,905.9 C318.6,904.9 323.1,903.9 329.1,903.2 C335.2,902.5 342.2,901.9 349.6,901.6 C357.0,901.3 364.2,900.8 373.2,901.2 C382.2,901.7 394.0,903.2 403.6,904.3 C413.2,905.4 421.5,906.9 430.7,907.9 C439.9,908.9 448.9,909.6 458.8,910.1 C468.7,910.6 481.1,910.6 490.3,910.6 C499.5,910.6 506.0,910.4 513.9,910.1 C521.8,909.8 531.6,909.0 537.6,908.6 C543.6,908.2 544.6,908.0 549.9,907.8 C555.1,907.6 562.0,907.8 569.1,907.6 C576.2,907.4 585.4,907.0 592.7,906.7 C600.0,906.4 609.5,906.0 612.9,905.9" fill="none" stroke="#f40000" stroke-width="1.0" stroke-linejoin="round" stroke-opacity="0.85"/>
<path d="M154.5,906.7 C158.7,906.8 171.3,906.9 179.4,907.0 C187.5,907.1 194.9,907.4 203.0,907.5 C211.1,907.6 220.3,907.8 228.2,907.5 C236.1,907.2 242.7,906.8 250.3,905.9 C257.9,905.0 266.0,903.4 273.9,901.9 C281.8,900.4 291.0,898.2 297.6,896.9 C304.2,895.6 308.1,894.8 313.3,894.1 C318.6,893.4 323.1,892.8 329.1,892.5 C335.2,892.2 342.2,892.2 349.6,892.2 C357.0,892.2 366.1,892.4 373.2,892.8 C380.3,893.2 387.0,894.1 392.1,894.8 C397.2,895.5 397.2,896.3 403.6,897.2 C410.0,898.1 421.5,899.7 430.7,900.4 C439.9,901.1 448.9,901.3 458.8,901.6 C468.7,901.9 481.1,901.8 490.3,902.3 C499.5,902.8 506.0,903.6 513.9,904.3 C521.8,905.0 531.6,906.2 537.6,906.7 C543.6,907.2 544.6,907.4 549.9,907.5 C555.1,907.6 562.0,907.6 569.1,907.5 C576.2,907.4 585.4,907.0 592.7,906.7 C600.0,906.4 609.5,906.0 612.9,905.9" fill="none" stroke="#f40000" stroke-width="3.4" stroke-linejoin="round" stroke-linecap="round"/>
<path d="M154.5,909.0 C158.7,909.1 171.3,909.4 179.4,909.5 C187.5,909.6 194.9,909.8 203.0,909.8 C211.1,909.8 220.3,909.8 228.2,909.5 C236.1,909.2 242.7,908.8 250.3,907.9 C257.9,907.0 266.0,905.5 273.9,904.3 C281.8,903.0 291.0,901.4 297.6,900.4 C304.2,899.4 308.1,899.0 313.3,898.5 C318.6,898.0 323.1,897.7 329.1,897.5 C335.2,897.3 342.2,897.1 349.6,897.2 C357.0,897.3 366.1,897.5 373.2,898.0 C380.3,898.5 387.0,899.6 392.1,900.4 C397.2,901.2 397.2,901.8 403.6,902.7 C410.0,903.6 421.5,905.2 430.7,905.9 C439.9,906.6 448.9,906.5 458.8,906.7 C468.7,906.9 481.1,906.8 490.3,907.0 C499.5,907.2 506.0,907.9 513.9,908.2 C521.8,908.5 531.6,908.7 537.6,908.6 C543.6,908.5 544.6,908.0 549.9,907.8 C555.1,907.6 562.0,907.8 569.1,907.6 C576.2,907.4 585.4,907.1 592.7,906.8 C600.0,906.5 609.5,906.1 612.9,906.0" fill="none" stroke="#f40000" stroke-width="3.4" stroke-linejoin="round" stroke-dasharray="11.2 20.5" stroke-linecap="round"/>
<path d="M154.5,899.6 C158.7,899.9 171.3,900.8 179.4,901.2 C187.5,901.7 194.9,902.0 203.0,902.3 C211.1,902.6 220.3,903.3 228.2,903.2 C236.1,903.1 242.7,902.9 250.3,901.9 C257.9,900.9 266.0,899.3 273.9,897.2 C281.8,895.1 291.0,891.4 297.6,889.3 C304.2,887.2 308.1,886.0 313.3,884.6 C318.6,883.2 323.1,881.9 329.1,881.1 C335.2,880.3 342.2,879.8 349.6,879.9 C357.0,880.0 366.1,880.6 373.2,881.5 C380.3,882.4 387.0,884.1 392.1,885.4 C397.2,886.7 397.2,887.6 403.6,889.3 C410.0,890.9 421.5,893.8 430.7,895.3 C439.9,896.8 448.9,897.4 458.8,898.0 C468.7,898.6 481.1,898.6 490.3,899.1 C499.5,899.6 507.1,900.7 513.9,901.2 C520.7,901.7 525.3,902.0 531.3,901.9 C537.3,901.8 542.3,901.6 549.9,900.7 C557.5,899.8 569.9,897.4 577.0,896.4 C584.1,895.4 586.7,895.2 592.7,894.8 C598.7,894.3 609.5,893.9 612.9,893.7" fill="none" stroke="#000000" stroke-width="3.4" stroke-linejoin="round" stroke-linecap="round"/>
<line x1="145.2" y1="519.8" x2="145.2" y2="759.0" stroke="#0c0ce6" stroke-width="1.7" />
<line x1="145.2" y1="758.2" x2="113.2" y2="758.2" stroke="#0c0ce6" stroke-width="1.7" />
<line x1="145.2" y1="746.3" x2="129.2" y2="746.3" stroke="#0c0ce6" stroke-width="1.7" />
<line x1="145.2" y1="734.4" x2="129.2" y2="734.4" stroke="#0c0ce6" stroke-width="1.7" />
<line x1="145.2" y1="722.5" x2="129.2" y2="722.5" stroke="#0c0ce6" stroke-width="1.7" />
<line x1="145.2" y1="710.7" x2="129.2" y2="710.7" stroke="#0c0ce6" stroke-width="1.7" />
<line x1="145.2" y1="698.8" x2="113.2" y2="698.8" stroke="#0c0ce6" stroke-width="1.7" />
<line x1="145.2" y1="686.9" x2="129.2" y2="686.9" stroke="#0c0ce6" stroke-width="1.7" />
<line x1="145.2" y1="675.0" x2="129.2" y2="675.0" stroke="#0c0ce6" stroke-width="1.7" />
<line x1="145.2" y1="663.1" x2="129.2" y2="663.1" stroke="#0c0ce6" stroke-width="1.7" />
<line x1="145.2" y1="651.2" x2="129.2" y2="651.2" stroke="#0c0ce6" stroke-width="1.7" />
<line x1="145.2" y1="639.4" x2="113.2" y2="639.4" stroke="#0c0ce6" stroke-width="1.7" />
<line x1="145.2" y1="627.5" x2="129.2" y2="627.5" stroke="#0c0ce6" stroke-width="1.7" />
<line x1="145.2" y1="615.6" x2="129.2" y2="615.6" stroke="#0c0ce6" stroke-width="1.7" />
<line x1="145.2" y1="603.7" x2="129.2" y2="603.7" stroke="#0c0ce6" stroke-width="1.7" />
<line x1="145.2" y1="591.8" x2="129.2" y2="591.8" stroke="#0c0ce6" stroke-width="1.7" />
<line x1="145.2" y1="579.9" x2="113.2" y2="579.9" stroke="#0c0ce6" stroke-width="1.7" />
<line x1="145.2" y1="568.0" x2="129.2" y2="568.0" stroke="#0c0ce6" stroke-width="1.7" />
<line x1="145.2" y1="556.2" x2="129.2" y2="556.2" stroke="#0c0ce6" stroke-width="1.7" />
<line x1="145.2" y1="544.3" x2="129.2" y2="544.3" stroke="#0c0ce6" stroke-width="1.7" />
<line x1="145.2" y1="532.4" x2="129.2" y2="532.4" stroke="#0c0ce6" stroke-width="1.7" />
<line x1="145.2" y1="520.5" x2="113.2" y2="520.5" stroke="#0c0ce6" stroke-width="1.7" />
<text transform="translate(97.4,765.9) scale(1,1.03)" fill="#0c0ce6" font-size="22" text-anchor="end">0.0</text>
<text transform="translate(97.4,706.4) scale(1,1.03)" fill="#0c0ce6" font-size="22" text-anchor="end">0.5</text>
<text transform="translate(97.4,647.0) scale(1,1.03)" fill="#0c0ce6" font-size="22" text-anchor="end">1.0</text>
<text transform="translate(97.4,587.6) scale(1,1.03)" fill="#0c0ce6" font-size="22" text-anchor="end">1.5</text>
<text transform="translate(97.4,528.1) scale(1,1.03)" fill="#0c0ce6" font-size="22" text-anchor="end">2.0</text>
<text transform="translate(54.2,639.4) rotate(-90) scale(1,1.03)" fill="#0c0ce6" font-size="22" text-anchor="middle">U (m/s)</text>
<line x1="621.5" y1="519.8" x2="621.5" y2="759.0" stroke="#168c36" stroke-width="1.7" />
<line x1="621.5" y1="758.2" x2="653.2" y2="758.2" stroke="#4da566" stroke-width="1.1" />
<line x1="621.5" y1="746.3" x2="637.9" y2="746.3" stroke="#168c36" stroke-width="1.7" />
<line x1="621.5" y1="734.4" x2="637.9" y2="734.4" stroke="#168c36" stroke-width="1.7" />
<line x1="621.5" y1="722.5" x2="637.9" y2="722.5" stroke="#168c36" stroke-width="1.7" />
<line x1="621.5" y1="710.7" x2="637.9" y2="710.7" stroke="#168c36" stroke-width="1.7" />
<line x1="621.5" y1="698.8" x2="653.2" y2="698.8" stroke="#4da566" stroke-width="1.1" />
<line x1="621.5" y1="686.9" x2="637.9" y2="686.9" stroke="#168c36" stroke-width="1.7" />
<line x1="621.5" y1="675.0" x2="637.9" y2="675.0" stroke="#168c36" stroke-width="1.7" />
<line x1="621.5" y1="663.1" x2="637.9" y2="663.1" stroke="#168c36" stroke-width="1.7" />
<line x1="621.5" y1="651.2" x2="637.9" y2="651.2" stroke="#168c36" stroke-width="1.7" />
<line x1="621.5" y1="639.4" x2="653.2" y2="639.4" stroke="#4da566" stroke-width="1.1" />
<line x1="621.5" y1="627.5" x2="637.9" y2="627.5" stroke="#168c36" stroke-width="1.7" />
<line x1="621.5" y1="615.6" x2="637.9" y2="615.6" stroke="#168c36" stroke-width="1.7" />
<line x1="621.5" y1="603.7" x2="637.9" y2="603.7" stroke="#168c36" stroke-width="1.7" />
<line x1="621.5" y1="591.8" x2="637.9" y2="591.8" stroke="#168c36" stroke-width="1.7" />
<line x1="621.5" y1="579.9" x2="653.2" y2="579.9" stroke="#4da566" stroke-width="1.1" />
<line x1="621.5" y1="568.0" x2="637.9" y2="568.0" stroke="#168c36" stroke-width="1.7" />
<line x1="621.5" y1="556.2" x2="637.9" y2="556.2" stroke="#168c36" stroke-width="1.7" />
<line x1="621.5" y1="544.3" x2="637.9" y2="544.3" stroke="#168c36" stroke-width="1.7" />
<line x1="621.5" y1="532.4" x2="637.9" y2="532.4" stroke="#168c36" stroke-width="1.7" />
<line x1="621.5" y1="520.5" x2="653.2" y2="520.5" stroke="#4da566" stroke-width="1.1" />
<text transform="translate(669.4,765.9) scale(1,1.03)" fill="#168c36" font-size="22" text-anchor="start">0.0</text>
<text transform="translate(669.4,706.4) scale(1,1.03)" fill="#168c36" font-size="22" text-anchor="start">0.5</text>
<text transform="translate(669.4,647.0) scale(1,1.03)" fill="#168c36" font-size="22" text-anchor="start">1.0</text>
<text transform="translate(669.4,587.6) scale(1,1.03)" fill="#168c36" font-size="22" text-anchor="start">1.5</text>
<text transform="translate(669.4,528.1) scale(1,1.03)" fill="#168c36" font-size="22" text-anchor="start">2.0</text>
<text transform="translate(736.5,639.4) rotate(-90) scale(1,1.03)" fill="#168c36" font-size="22" text-anchor="middle">c (m/s)</text>
<line x1="143.8" y1="789.4" x2="143.8" y2="917.9" stroke="#d83434" stroke-width="2.0" />
<line x1="143.8" y1="917.0" x2="111.8" y2="917.0" stroke="#ea1c1c" stroke-width="1.7" />
<line x1="143.8" y1="874.8" x2="127.6" y2="874.8" stroke="#ea1c1c" stroke-width="1.7" />
<line x1="143.8" y1="832.5" x2="111.8" y2="832.5" stroke="#ea1c1c" stroke-width="1.7" />
<line x1="143.8" y1="790.3" x2="127.6" y2="790.3" stroke="#ea1c1c" stroke-width="1.7" />
<text transform="translate(96.0,924.6) scale(1,1.03)" fill="#ea1c1c" font-size="22" text-anchor="end">0.0</text>
<text transform="translate(96.0,840.2) scale(1,1.03)" fill="#ea1c1c" font-size="22" text-anchor="end">1.0</text>
<text transform="translate(52.8,853.6) rotate(-90) scale(1,1.03)" fill="#ea1c1c" font-size="22" text-anchor="middle">F</text>
<line x1="620.4" y1="789.4" x2="620.4" y2="917.9" stroke="#111" stroke-width="2.1" />
<line x1="620.4" y1="917.0" x2="651.9" y2="917.0" stroke="#111" stroke-width="2.1" />
<line x1="620.4" y1="874.8" x2="636.4" y2="874.8" stroke="#111" stroke-width="2.1" />
<line x1="620.4" y1="832.5" x2="651.9" y2="832.5" stroke="#111" stroke-width="2.1" />
<line x1="620.4" y1="790.3" x2="636.4" y2="790.3" stroke="#111" stroke-width="2.1" />
<text transform="translate(668.3,924.6) scale(1,1.03)" fill="#111" font-size="22" text-anchor="start">0.0</text>
<text transform="translate(668.3,840.2) scale(1,1.03)" fill="#111" font-size="22" text-anchor="start">1.0</text>
<text transform="translate(735.4,853.6) rotate(-90) scale(1,1.03)" fill="#111" font-size="22" text-anchor="middle">G</text>
<text transform="translate(192.8,975.7) scale(1,1.03)" fill="#000" font-size="22" text-anchor="middle">5/27 1200</text>
<text transform="translate(311.9,975.7) scale(1,1.03)" fill="#000" font-size="22" text-anchor="middle">5/27 1800</text>
<text transform="translate(431.0,975.7) scale(1,1.03)" fill="#000" font-size="22" text-anchor="middle">5/28 000</text>
<text transform="translate(550.1,975.7) scale(1,1.03)" fill="#000" font-size="22" text-anchor="middle">5/28 600</text>
<text transform="translate(383.0,1001.3) scale(1,1.03)" fill="#000" font-size="22" text-anchor="middle">2015</text>
<text transform="translate(2.0,532.0) scale(1,1.0)" fill="#000" font-size="27" text-anchor="start">(b)</text>
</g>
<text transform="translate(385.0,823.0) scale(1,1.03)" fill="#000" font-size="22" text-anchor="middle">propagation dominant</text>
<g id="panel-c">
<rect x="1305.1" y="521.1" width="71.5" height="395.1" fill="#ffb482"/>
<line x1="936.6" y1="521.0" x2="936.6" y2="758.2" stroke="#555" stroke-width="1.3" stroke-dasharray="15.5 16.3"/>
<line x1="1055.8" y1="521.0" x2="1055.8" y2="758.2" stroke="#9a9a9a" stroke-width="1.3" stroke-dasharray="15.5 16.3"/>
<line x1="1174.9" y1="521.0" x2="1174.9" y2="758.2" stroke="#555" stroke-width="1.3" stroke-dasharray="15.5 16.3"/>
<line x1="1294.1" y1="521.0" x2="1294.1" y2="758.2" stroke="#9a9a9a" stroke-width="1.3" stroke-dasharray="15.5 16.3"/>
<line x1="903.1" y1="916.7" x2="1378.9" y2="916.7" stroke="#8a8a8a" stroke-width="1.7" />
<line x1="936.6" y1="917.0" x2="936.6" y2="941.0" stroke="#777" stroke-width="1.4" />
<line x1="996.2" y1="917.0" x2="996.2" y2="932.3" stroke="#777" stroke-width="1.4" />
<line x1="1055.7" y1="917.0" x2="1055.7" y2="941.0" stroke="#777" stroke-width="1.4" />
<line x1="1115.3" y1="917.0" x2="1115.3" y2="932.3" stroke="#777" stroke-width="1.4" />
<line x1="1174.9" y1="917.0" x2="1174.9" y2="941.0" stroke="#777" stroke-width="1.4" />
<line x1="1234.5" y1="917.0" x2="1234.5" y2="932.3" stroke="#777" stroke-width="1.4" />
<line x1="1294.0" y1="917.0" x2="1294.0" y2="941.0" stroke="#777" stroke-width="1.4" />
<line x1="1353.6" y1="917.0" x2="1353.6" y2="932.3" stroke="#777" stroke-width="1.4" />
<line x1="901.6" y1="832.5" x2="1378.9" y2="832.5" stroke="#4a4a4a" stroke-width="1.5" />
<path d="M917.3,696.4 L936.6,689.6 L955.2,690.4 L998.5,704.3 L1017.4,697.5 L1037.1,682.5 L1056.0,675.9 L1074.1,675.5 L1120.6,696.7 L1136.4,701.8 L1155.8,693.6 L1174.7,682.2 L1193.6,677.5 L1212.5,681.3 L1255.8,697.0 L1274.7,696.7 L1294.1,693.9 L1310.2,693.9 L1332.2,703.0 L1355.1,716.4 L1375.6,715.3" fill="none" stroke="#168c36" stroke-width="1.0" stroke-linejoin="round" stroke-opacity="0.72"/>
<path d="M917.3,682.5 L936.6,676.6 L955.2,676.6 L975.6,683.3 L998.5,688.8 L1017.4,687.6 L1037.1,681.3 L1056.0,675.5 L1074.1,675.0 L1093.8,682.5 L1115.1,694.4 L1136.4,707.4 L1155.8,699.9 L1174.7,688.5 L1193.6,682.9 L1212.5,688.1 L1255.8,706.2 L1274.7,707.8 L1294.1,703.8 L1310.2,702.7 L1332.2,707.0 L1355.1,712.5 L1375.6,704.6" fill="none" stroke="#168c36" stroke-width="3.4" stroke-linejoin="round" stroke-linecap="round"/>
<path d="M917.3,680.2 L936.6,675.5 L955.2,673.9 L998.5,687.0 L1017.4,678.6 L1056.0,656.5 L1074.1,654.5 L1136.4,683.3 L1155.8,675.8 L1174.7,664.0 L1193.6,660.5 L1212.5,664.0 L1255.8,681.3 L1274.7,684.1 L1285.0,683.3 L1305.1,682.5 L1316.5,684.9 L1332.2,692.0 L1344.8,699.1 L1360.6,703.8 L1375.6,703.8" fill="none" stroke="#168c36" stroke-width="3.4" stroke-linejoin="round" stroke-dasharray="11.2 20.5" stroke-linecap="round"/>
<path d="M917.3,679.7 L936.6,675.1 L955.2,673.6 L998.5,686.6 L1017.4,678.3 L1056.0,656.2 L1074.1,654.2 L1136.4,683.0 L1155.8,675.5 L1174.7,663.6 L1193.6,660.2 L1212.5,663.6 L1255.8,681.0 L1274.7,681.3 L1288.1,678.6 L1310.2,678.6 L1332.2,688.1 L1355.1,700.7 L1375.6,703.0" fill="none" stroke="#168c36" stroke-width="3.4" stroke-linejoin="round" stroke-dasharray="0.4 7.55" stroke-linecap="round"/>
<path d="M917.3,727.5 L936.6,720.4 L955.2,722.3 L998.5,735.3 L1017.4,728.2 L1037.1,714.1 L1056.0,703.8 L1074.1,703.0 L1136.4,731.4 L1155.8,725.1 L1174.7,713.7 L1193.6,707.8 L1212.5,710.1 L1255.8,725.1 L1274.7,728.2 L1294.1,726.4 L1310.2,728.2 L1332.2,734.5 L1355.1,747.2 L1375.6,747.2" fill="none" stroke="#0c0ce6" stroke-width="1.0" stroke-linejoin="round" stroke-opacity="0.85"/>
<path d="M917.3,716.9 L936.6,707.8 L955.2,707.8 L998.5,719.6 L1017.4,717.2 L1037.1,709.3 L1056.0,703.0 L1074.1,703.0 L1093.8,710.9 L1136.4,736.1 L1155.8,729.8 L1174.7,718.0 L1193.6,712.8 L1212.5,718.0 L1255.8,735.3 L1274.7,736.4 L1294.1,732.2 L1310.2,731.1 L1332.2,735.3 L1355.1,740.1 L1375.6,733.8" fill="none" stroke="#0c0ce6" stroke-width="3.4" stroke-linejoin="round" stroke-linecap="round"/>
<path d="M917.3,726.7 L936.6,719.6 L955.2,721.6 L975.6,727.5 L998.5,733.0 L1017.4,723.5 L1037.1,709.3 L1056.0,700.7 L1074.1,699.1 L1093.8,707.8 L1115.1,718.8 L1136.4,727.0 L1155.8,720.4 L1174.7,709.3 L1193.6,704.6 L1212.5,707.8 L1234.5,715.6 L1255.8,724.3 L1274.7,727.5 L1294.1,725.9 L1310.2,725.9 L1332.2,733.0 L1344.8,740.8 L1355.1,747.9 L1375.6,746.8" fill="none" stroke="#0c0ce6" stroke-width="3.4" stroke-linejoin="round" stroke-dasharray="11.2 20.5" stroke-linecap="round"/>
<path d="M917.3,726.4 L936.6,719.3 L955.2,721.3 L975.6,727.1 L998.5,732.7 L1017.4,723.2 L1037.1,709.0 L1056.0,700.4 L1074.1,698.8 L1093.8,707.4 L1115.1,718.5 L1136.4,726.7 L1155.8,720.0 L1174.7,709.0 L1193.6,704.3 L1212.5,707.4 L1234.5,715.3 L1255.8,724.0 L1274.7,727.1 L1294.1,724.8 L1310.2,724.8 L1332.2,732.7 L1344.8,740.5 L1355.1,747.6 L1375.6,747.2" fill="none" stroke="#0c0ce6" stroke-width="3.4" stroke-linejoin="round" stroke-dasharray="0.4 7.55" stroke-linecap="round"/>
<path d="M917.3,894.8 L936.6,890.1 L955.2,890.9 L998.5,899.6 L1017.4,894.1 L1037.1,886.2 L1056.0,879.1 L1074.1,877.5 L1136.4,898.8 L1155.8,893.7 L1174.7,885.4 L1193.6,882.2 L1212.5,883.8 L1255.8,895.6 L1274.7,896.4 L1294.1,895.3 L1311.8,895.6 L1332.2,900.4 L1355.1,907.5 L1375.6,907.0" fill="none" stroke="#f40000" stroke-width="1.0" stroke-linejoin="round" stroke-opacity="0.85"/>
<path d="M917.3,887.0 L936.6,880.7 L955.2,880.7 L974.8,884.6 L998.5,889.3 L1017.4,887.8 L1037.1,883.0 L1056.0,878.0 L1074.1,877.5 L1093.8,884.6 L1117.5,894.1 L1136.4,901.6 L1155.8,897.2 L1174.7,888.5 L1193.6,884.3 L1212.5,887.4 L1255.8,900.4 L1274.7,901.9 L1294.1,898.5 L1311.8,897.2 L1332.2,900.4 L1355.1,903.5 L1375.6,898.8" fill="none" stroke="#f40000" stroke-width="3.4" stroke-linejoin="round" stroke-linecap="round"/>
<path d="M917.3,894.1 L936.6,889.3 L955.2,890.1 L974.8,896.4 L998.5,898.8 L1017.4,891.7 L1037.1,883.8 L1056.0,877.0 L1074.1,875.2 L1093.8,882.2 L1117.5,890.1 L1136.4,894.8 L1155.8,890.9 L1174.7,883.0 L1193.6,879.6 L1212.5,881.8 L1255.8,893.3 L1274.7,894.1 L1294.1,893.3 L1311.8,893.3 L1332.2,898.8 L1344.8,905.1 L1355.1,909.8 L1375.6,909.8" fill="none" stroke="#f40000" stroke-width="3.4" stroke-linejoin="round" stroke-dasharray="11.2 20.5" stroke-linecap="round"/>
<path d="M917.3,893.7 L936.6,889.0 L955.2,889.8 L974.8,896.1 L998.5,898.5 L1017.4,891.4 L1037.1,883.5 L1056.0,876.7 L1074.1,874.8 L1093.8,881.9 L1117.5,889.8 L1136.4,894.5 L1155.8,890.6 L1174.7,882.7 L1193.6,879.2 L1212.5,881.5 L1255.8,893.0 L1274.7,893.7 L1294.1,892.5 L1311.8,892.5 L1332.2,898.5 L1344.8,904.8 L1355.1,909.5 L1375.6,910.1" fill="none" stroke="#f40000" stroke-width="3.4" stroke-linejoin="round" stroke-dasharray="0.4 7.55" stroke-linecap="round"/>
<path d="M917.3,868.5 L936.6,857.5 L955.2,858.6 L974.8,869.6 L998.5,875.9 L1017.4,867.3 L1037.1,850.7 L1056.0,838.6 L1074.1,836.5 L1093.8,848.4 L1117.5,866.5 L1136.4,878.6 L1155.8,867.3 L1174.7,851.5 L1193.6,844.9 L1212.5,849.9 L1234.5,862.5 L1255.8,874.4 L1274.7,876.7 L1294.1,871.7 L1311.8,871.7 L1332.2,883.0 L1355.1,898.5 L1375.6,894.8" fill="none" stroke="#000000" stroke-width="3.4" stroke-linejoin="round" stroke-linecap="round"/>
<line x1="903.2" y1="519.8" x2="903.2" y2="759.0" stroke="#0c0ce6" stroke-width="1.7" />
<line x1="903.2" y1="758.2" x2="871.2" y2="758.2" stroke="#0c0ce6" stroke-width="1.7" />
<line x1="903.2" y1="746.3" x2="887.2" y2="746.3" stroke="#0c0ce6" stroke-width="1.7" />
<line x1="903.2" y1="734.4" x2="887.2" y2="734.4" stroke="#0c0ce6" stroke-width="1.7" />
<line x1="903.2" y1="722.5" x2="887.2" y2="722.5" stroke="#0c0ce6" stroke-width="1.7" />
<line x1="903.2" y1="710.7" x2="887.2" y2="710.7" stroke="#0c0ce6" stroke-width="1.7" />
<line x1="903.2" y1="698.8" x2="871.2" y2="698.8" stroke="#0c0ce6" stroke-width="1.7" />
<line x1="903.2" y1="686.9" x2="887.2" y2="686.9" stroke="#0c0ce6" stroke-width="1.7" />
<line x1="903.2" y1="675.0" x2="887.2" y2="675.0" stroke="#0c0ce6" stroke-width="1.7" />
<line x1="903.2" y1="663.1" x2="887.2" y2="663.1" stroke="#0c0ce6" stroke-width="1.7" />
<line x1="903.2" y1="651.2" x2="887.2" y2="651.2" stroke="#0c0ce6" stroke-width="1.7" />
<line x1="903.2" y1="639.4" x2="871.2" y2="639.4" stroke="#0c0ce6" stroke-width="1.7" />
<line x1="903.2" y1="627.5" x2="887.2" y2="627.5" stroke="#0c0ce6" stroke-width="1.7" />
<line x1="903.2" y1="615.6" x2="887.2" y2="615.6" stroke="#0c0ce6" stroke-width="1.7" />
<line x1="903.2" y1="603.7" x2="887.2" y2="603.7" stroke="#0c0ce6" stroke-width="1.7" />
<line x1="903.2" y1="591.8" x2="887.2" y2="591.8" stroke="#0c0ce6" stroke-width="1.7" />
<line x1="903.2" y1="579.9" x2="871.2" y2="579.9" stroke="#0c0ce6" stroke-width="1.7" />
<line x1="903.2" y1="568.0" x2="887.2" y2="568.0" stroke="#0c0ce6" stroke-width="1.7" />
<line x1="903.2" y1="556.2" x2="887.2" y2="556.2" stroke="#0c0ce6" stroke-width="1.7" />
<line x1="903.2" y1="544.3" x2="887.2" y2="544.3" stroke="#0c0ce6" stroke-width="1.7" />
<line x1="903.2" y1="532.4" x2="887.2" y2="532.4" stroke="#0c0ce6" stroke-width="1.7" />
<line x1="903.2" y1="520.5" x2="871.2" y2="520.5" stroke="#0c0ce6" stroke-width="1.7" />
<text transform="translate(855.4,765.9) scale(1,1.03)" fill="#0c0ce6" font-size="22" text-anchor="end">0.0</text>
<text transform="translate(855.4,706.4) scale(1,1.03)" fill="#0c0ce6" font-size="22" text-anchor="end">0.5</text>
<text transform="translate(855.4,647.0) scale(1,1.03)" fill="#0c0ce6" font-size="22" text-anchor="end">1.0</text>
<text transform="translate(855.4,587.6) scale(1,1.03)" fill="#0c0ce6" font-size="22" text-anchor="end">1.5</text>
<text transform="translate(855.4,528.1) scale(1,1.03)" fill="#0c0ce6" font-size="22" text-anchor="end">2.0</text>
<text transform="translate(812.2,639.4) rotate(-90) scale(1,1.03)" fill="#0c0ce6" font-size="22" text-anchor="middle">U (m/s)</text>
<line x1="1379.2" y1="519.8" x2="1379.2" y2="759.0" stroke="#168c36" stroke-width="1.7" />
<line x1="1379.2" y1="758.2" x2="1410.9" y2="758.2" stroke="#4da566" stroke-width="1.1" />
<line x1="1379.2" y1="746.3" x2="1395.6" y2="746.3" stroke="#168c36" stroke-width="1.7" />
<line x1="1379.2" y1="734.4" x2="1395.6" y2="734.4" stroke="#168c36" stroke-width="1.7" />
<line x1="1379.2" y1="722.5" x2="1395.6" y2="722.5" stroke="#168c36" stroke-width="1.7" />
<line x1="1379.2" y1="710.7" x2="1395.6" y2="710.7" stroke="#168c36" stroke-width="1.7" />
<line x1="1379.2" y1="698.8" x2="1410.9" y2="698.8" stroke="#4da566" stroke-width="1.1" />
<line x1="1379.2" y1="686.9" x2="1395.6" y2="686.9" stroke="#168c36" stroke-width="1.7" />
<line x1="1379.2" y1="675.0" x2="1395.6" y2="675.0" stroke="#168c36" stroke-width="1.7" />
<line x1="1379.2" y1="663.1" x2="1395.6" y2="663.1" stroke="#168c36" stroke-width="1.7" />
<line x1="1379.2" y1="651.2" x2="1395.6" y2="651.2" stroke="#168c36" stroke-width="1.7" />
<line x1="1379.2" y1="639.4" x2="1410.9" y2="639.4" stroke="#4da566" stroke-width="1.1" />
<line x1="1379.2" y1="627.5" x2="1395.6" y2="627.5" stroke="#168c36" stroke-width="1.7" />
<line x1="1379.2" y1="615.6" x2="1395.6" y2="615.6" stroke="#168c36" stroke-width="1.7" />
<line x1="1379.2" y1="603.7" x2="1395.6" y2="603.7" stroke="#168c36" stroke-width="1.7" />
<line x1="1379.2" y1="591.8" x2="1395.6" y2="591.8" stroke="#168c36" stroke-width="1.7" />
<line x1="1379.2" y1="579.9" x2="1410.9" y2="579.9" stroke="#4da566" stroke-width="1.1" />
<line x1="1379.2" y1="568.0" x2="1395.6" y2="568.0" stroke="#168c36" stroke-width="1.7" />
<line x1="1379.2" y1="556.2" x2="1395.6" y2="556.2" stroke="#168c36" stroke-width="1.7" />
<line x1="1379.2" y1="544.3" x2="1395.6" y2="544.3" stroke="#168c36" stroke-width="1.7" />
<line x1="1379.2" y1="532.4" x2="1395.6" y2="532.4" stroke="#168c36" stroke-width="1.7" />
<line x1="1379.2" y1="520.5" x2="1410.9" y2="520.5" stroke="#4da566" stroke-width="1.1" />
<text transform="translate(1427.1,765.9) scale(1,1.03)" fill="#168c36" font-size="22" text-anchor="start">0.0</text>
<text transform="translate(1427.1,706.4) scale(1,1.03)" fill="#168c36" font-size="22" text-anchor="start">0.5</text>
<text transform="translate(1427.1,647.0) scale(1,1.03)" fill="#168c36" font-size="22" text-anchor="start">1.0</text>
<text transform="translate(1427.1,587.6) scale(1,1.03)" fill="#168c36" font-size="22" text-anchor="start">1.5</text>
<text transform="translate(1427.1,528.1) scale(1,1.03)" fill="#168c36" font-size="22" text-anchor="start">2.0</text>
<text transform="translate(1494.2,639.4) rotate(-90) scale(1,1.03)" fill="#168c36" font-size="22" text-anchor="middle">c (m/s)</text>
<line x1="901.6" y1="789.4" x2="901.6" y2="917.9" stroke="#d83434" stroke-width="2.0" />
<line x1="901.6" y1="917.0" x2="869.6" y2="917.0" stroke="#ea1c1c" stroke-width="1.7" />
<line x1="901.6" y1="874.8" x2="885.4" y2="874.8" stroke="#ea1c1c" stroke-width="1.7" />
<line x1="901.6" y1="832.5" x2="869.6" y2="832.5" stroke="#ea1c1c" stroke-width="1.7" />
<line x1="901.6" y1="790.3" x2="885.4" y2="790.3" stroke="#ea1c1c" stroke-width="1.7" />
<text transform="translate(853.8,924.6) scale(1,1.03)" fill="#ea1c1c" font-size="22" text-anchor="end">0.0</text>
<text transform="translate(853.8,840.2) scale(1,1.03)" fill="#ea1c1c" font-size="22" text-anchor="end">1.0</text>
<text transform="translate(810.6,853.6) rotate(-90) scale(1,1.03)" fill="#ea1c1c" font-size="22" text-anchor="middle">F</text>
<line x1="1378.9" y1="789.4" x2="1378.9" y2="917.9" stroke="#111" stroke-width="2.1" />
<line x1="1378.9" y1="917.0" x2="1410.4" y2="917.0" stroke="#111" stroke-width="2.1" />
<line x1="1378.9" y1="874.8" x2="1394.9" y2="874.8" stroke="#111" stroke-width="2.1" />
<line x1="1378.9" y1="832.5" x2="1410.4" y2="832.5" stroke="#111" stroke-width="2.1" />
<line x1="1378.9" y1="790.3" x2="1394.9" y2="790.3" stroke="#111" stroke-width="2.1" />
<text transform="translate(1426.8,924.6) scale(1,1.03)" fill="#111" font-size="22" text-anchor="start">0.0</text>
<text transform="translate(1426.8,840.2) scale(1,1.03)" fill="#111" font-size="22" text-anchor="start">1.0</text>
<text transform="translate(1493.9,853.6) rotate(-90) scale(1,1.03)" fill="#111" font-size="22" text-anchor="middle">G</text>
<text transform="translate(936.6,975.7) scale(1,1.03)" fill="#000" font-size="22" text-anchor="middle">6/3 000</text>
<text transform="translate(1055.8,975.7) scale(1,1.03)" fill="#000" font-size="22" text-anchor="middle">6/3 600</text>
<text transform="translate(1174.9,975.7) scale(1,1.03)" fill="#000" font-size="22" text-anchor="middle">6/3 1200</text>
<text transform="translate(1294.1,975.7) scale(1,1.03)" fill="#000" font-size="22" text-anchor="middle">6/3 1800</text>
<text transform="translate(1140.5,1001.3) scale(1,1.03)" fill="#000" font-size="22" text-anchor="middle">2015</text>
<text transform="translate(747.7,532.0) scale(1,1.0)" fill="#000" font-size="27" text-anchor="start">(c)</text>
</g>
<g id="panel-d">
<rect x="532.4" y="1025.6" width="77.9" height="395.6" fill="#ffb482"/>
<line x1="169.6" y1="1025.5" x2="169.6" y2="1262.9" stroke="#9a9a9a" stroke-width="1.3" stroke-dasharray="15.5 16.3"/>
<line x1="288.4" y1="1025.5" x2="288.4" y2="1262.9" stroke="#9a9a9a" stroke-width="1.3" stroke-dasharray="15.5 16.3"/>
<line x1="407.3" y1="1025.5" x2="407.3" y2="1262.9" stroke="#9a9a9a" stroke-width="1.3" stroke-dasharray="15.5 16.3"/>
<line x1="526.1" y1="1025.5" x2="526.1" y2="1262.9" stroke="#9a9a9a" stroke-width="1.3" stroke-dasharray="15.5 16.3"/>
<line x1="145.3" y1="1421.7" x2="620.4" y2="1421.7" stroke="#8a8a8a" stroke-width="1.7" />
<line x1="169.6" y1="1422.0" x2="169.6" y2="1446.0" stroke="#777" stroke-width="1.4" />
<line x1="229.0" y1="1422.0" x2="229.0" y2="1437.3" stroke="#777" stroke-width="1.4" />
<line x1="288.5" y1="1422.0" x2="288.5" y2="1446.0" stroke="#777" stroke-width="1.4" />
<line x1="347.9" y1="1422.0" x2="347.9" y2="1437.3" stroke="#777" stroke-width="1.4" />
<line x1="407.3" y1="1422.0" x2="407.3" y2="1446.0" stroke="#777" stroke-width="1.4" />
<line x1="466.8" y1="1422.0" x2="466.8" y2="1437.3" stroke="#777" stroke-width="1.4" />
<line x1="526.2" y1="1422.0" x2="526.2" y2="1446.0" stroke="#777" stroke-width="1.4" />
<line x1="585.6" y1="1422.0" x2="585.6" y2="1437.3" stroke="#777" stroke-width="1.4" />
<line x1="143.8" y1="1337.3" x2="620.4" y2="1337.3" stroke="#4a4a4a" stroke-width="1.5" />
<path d="M150.2,1215.3 L169.5,1201.5 L188.8,1193.9 L207.8,1195.2 L250.3,1208.1 L269.2,1199.9 L287.8,1185.7 L307.8,1174.4 L325.9,1173.1 L349.6,1181.3 L368.5,1194.4 L388.2,1202.2 L407.6,1193.6 L425.7,1183.3 L446.2,1177.8 L469.8,1181.3 L488.7,1188.8 L508.4,1193.9 L526.2,1194.4 L545.5,1192.0 L563.6,1193.9 L586.4,1203.0 L607.7,1218.8" fill="none" stroke="#168c36" stroke-width="1.0" stroke-linejoin="round" stroke-opacity="0.72"/>
<path d="M150.2,1204.6 L169.5,1193.6 L188.8,1187.0 L207.8,1188.1 L250.3,1198.6 L269.2,1193.6 L287.8,1182.5 L307.8,1171.5 L325.9,1169.6 L349.6,1177.8 L368.5,1188.8 L388.2,1198.3 L407.6,1191.2 L425.7,1181.8 L446.2,1176.6 L469.8,1180.2 L488.7,1190.4 L508.4,1201.5 L526.2,1207.0 L545.5,1206.5 L563.6,1207.0 L586.4,1213.7 L607.7,1226.4" fill="none" stroke="#168c36" stroke-width="3.4" stroke-linejoin="round" stroke-linecap="round"/>
<path d="M150.2,1200.7 L169.5,1188.8 L188.8,1179.1 L207.8,1180.7 L228.2,1184.9 L250.3,1187.6 L269.2,1177.8 L287.8,1161.3 L307.8,1151.8 L325.9,1149.8 L349.6,1158.6 L368.5,1171.5 L388.2,1181.0 L407.6,1175.5 L425.7,1166.8 L446.2,1161.3 L469.8,1164.9 L488.7,1173.9 L508.4,1183.3 L526.2,1187.3 L545.5,1187.0 L563.6,1187.3 L586.4,1195.2 L607.7,1206.2" fill="none" stroke="#168c36" stroke-width="3.4" stroke-linejoin="round" stroke-dasharray="11.2 20.5" stroke-linecap="round"/>
<path d="M150.2,1203.0 L169.5,1190.4 L188.8,1182.5 L207.8,1184.1 L228.2,1190.4 L250.3,1195.2 L269.2,1186.5 L287.8,1171.5 L307.8,1162.1 L325.9,1159.2 L349.6,1168.4 L368.5,1179.4 L388.2,1186.5 L407.6,1175.8 L425.7,1167.1 L446.2,1161.6 L469.8,1165.2 L488.7,1171.5 L508.4,1177.5 L526.2,1177.8 L545.5,1176.6 L563.6,1177.0 L586.4,1185.7 L607.7,1199.9" fill="none" stroke="#168c36" stroke-width="3.4" stroke-linejoin="round" stroke-dasharray="0.4 7.55" stroke-linecap="round"/>
<path d="M150.2,1244.8 L169.5,1230.6 L188.8,1225.1 L207.8,1226.4 L250.3,1237.7 L269.2,1228.2 L287.8,1214.1 L307.8,1204.9 L325.9,1203.3 L349.6,1210.9 L368.5,1222.7 L388.2,1230.6 L407.6,1223.7 L425.7,1213.4 L446.2,1208.4 L469.8,1211.5 L488.7,1219.6 L508.4,1224.8 L526.2,1225.9 L545.5,1224.3 L563.6,1226.4 L586.4,1235.3 L607.7,1248.7" fill="none" stroke="#0c0ce6" stroke-width="1.0" stroke-linejoin="round" stroke-opacity="0.85"/>
<path d="M150.2,1231.1 L169.5,1217.5 L188.8,1213.3 L207.8,1215.3 L250.3,1229.0 L269.2,1223.5 L287.8,1212.5 L307.8,1204.6 L325.9,1203.8 L349.6,1210.9 L368.5,1222.7 L388.2,1230.6 L407.6,1223.5 L425.7,1213.3 L446.2,1208.1 L469.8,1211.7 L488.7,1221.9 L508.4,1231.7 L526.2,1235.3 L545.5,1234.5 L563.6,1234.5 L586.4,1240.8 L607.7,1253.5" fill="none" stroke="#0c0ce6" stroke-width="3.4" stroke-linejoin="round" stroke-linecap="round"/>
<path d="M150.2,1242.4 L169.5,1228.2 L188.8,1222.7 L207.8,1224.3 L228.2,1229.8 L250.3,1234.5 L269.2,1221.9 L287.8,1207.8 L307.8,1198.0 L325.9,1196.7 L349.6,1205.4 L368.5,1218.8 L388.2,1230.6 L407.6,1223.8 L425.7,1213.6 L446.2,1208.4 L469.8,1212.0 L488.7,1221.9 L508.4,1231.1 L526.2,1232.2 L545.5,1231.1 L563.6,1233.0 L586.4,1240.8 L607.7,1252.7" fill="none" stroke="#0c0ce6" stroke-width="3.4" stroke-linejoin="round" stroke-dasharray="11.2 20.5" stroke-linecap="round"/>
<path d="M150.2,1249.5 L169.5,1234.5 L188.8,1229.0 L207.8,1230.1 L228.2,1236.1 L250.3,1241.6 L269.2,1231.4 L287.8,1215.6 L307.8,1205.4 L325.9,1203.8 L349.6,1211.7 L368.5,1224.3 L388.2,1231.4 L407.6,1223.5 L425.7,1213.3 L446.2,1208.1 L469.8,1210.9 L488.7,1218.8 L508.4,1223.2 L526.2,1223.5 L545.5,1222.3 L563.6,1223.5 L586.4,1233.0 L607.7,1245.6" fill="none" stroke="#0c0ce6" stroke-width="3.4" stroke-linejoin="round" stroke-dasharray="0.4 7.55" stroke-linecap="round"/>
<path d="M150.2,1407.7 L169.5,1399.1 L188.8,1394.3 L207.8,1395.9 L229.8,1400.6 L250.3,1403.0 L269.2,1396.7 L287.8,1387.2 L307.8,1380.5 L325.9,1379.4 L349.6,1384.6 L368.5,1394.3 L388.2,1398.7 L407.6,1393.2 L425.7,1386.3 L446.2,1382.0 L468.2,1384.4 L488.7,1390.9 L508.4,1395.1 L526.2,1396.2 L545.5,1394.6 L563.6,1396.2 L586.4,1402.2 L607.7,1412.5" fill="none" stroke="#f40000" stroke-width="1.0" stroke-linejoin="round" stroke-opacity="0.85"/>
<path d="M150.2,1398.3 L169.5,1389.6 L188.8,1385.7 L207.8,1388.0 L229.8,1393.1 L250.3,1397.5 L269.2,1394.3 L287.8,1387.2 L307.8,1380.2 L325.9,1378.9 L349.6,1384.1 L368.5,1394.3 L388.2,1398.7 L407.6,1393.1 L425.7,1386.1 L446.2,1382.0 L468.2,1384.6 L488.7,1392.0 L508.4,1398.7 L526.2,1402.2 L545.5,1401.0 L563.6,1401.4 L586.4,1406.2 L607.7,1414.8" fill="none" stroke="#f40000" stroke-width="3.4" stroke-linejoin="round" stroke-linecap="round"/>
<path d="M150.2,1406.2 L169.5,1397.5 L188.8,1392.4 L207.8,1394.3 L229.8,1399.1 L250.3,1400.6 L269.2,1392.8 L287.8,1384.1 L307.8,1375.4 L325.9,1374.6 L349.6,1380.9 L368.5,1392.0 L388.2,1398.3 L407.6,1393.2 L425.7,1386.3 L446.2,1382.2 L468.2,1384.7 L488.7,1391.8 L508.4,1398.1 L526.2,1401.0 L545.5,1398.7 L563.6,1399.8 L586.4,1404.6 L607.7,1413.2" fill="none" stroke="#f40000" stroke-width="3.4" stroke-linejoin="round" stroke-dasharray="11.2 20.5" stroke-linecap="round"/>
<path d="M150.2,1411.7 L169.5,1402.2 L188.8,1396.7 L207.8,1398.7 L229.8,1403.5 L250.3,1406.2 L269.2,1399.1 L287.8,1387.2 L307.8,1380.9 L325.9,1379.8 L349.6,1384.9 L368.5,1394.3 L388.2,1399.1 L407.6,1393.1 L425.7,1386.1 L446.2,1381.7 L468.2,1384.1 L488.7,1389.9 L508.4,1393.1 L526.2,1394.0 L545.5,1392.8 L563.6,1394.0 L586.4,1400.3 L607.7,1410.9" fill="none" stroke="#f40000" stroke-width="3.4" stroke-linejoin="round" stroke-dasharray="0.4 7.55" stroke-linecap="round"/>
<path d="M150.2,1391.2 L169.5,1373.1 L188.8,1363.6 L207.8,1366.0 L229.8,1376.2 L250.3,1384.1 L269.2,1372.3 L287.8,1354.2 L307.8,1338.4 L325.9,1336.3 L349.6,1348.6 L368.5,1367.5 L388.2,1377.8 L407.6,1366.8 L425.7,1351.8 L446.2,1344.2 L468.2,1348.3 L488.7,1360.5 L508.4,1370.7 L526.2,1374.6 L545.5,1372.3 L563.6,1373.1 L586.4,1384.1 L607.7,1405.0" fill="none" stroke="#000000" stroke-width="3.4" stroke-linejoin="round" stroke-linecap="round"/>
<line x1="145.2" y1="1024.2" x2="145.2" y2="1263.7" stroke="#0c0ce6" stroke-width="1.7" />
<line x1="145.2" y1="1262.9" x2="113.2" y2="1262.9" stroke="#0c0ce6" stroke-width="1.7" />
<line x1="145.2" y1="1251.0" x2="129.2" y2="1251.0" stroke="#0c0ce6" stroke-width="1.7" />
<line x1="145.2" y1="1239.1" x2="129.2" y2="1239.1" stroke="#0c0ce6" stroke-width="1.7" />
<line x1="145.2" y1="1227.2" x2="129.2" y2="1227.2" stroke="#0c0ce6" stroke-width="1.7" />
<line x1="145.2" y1="1215.3" x2="129.2" y2="1215.3" stroke="#0c0ce6" stroke-width="1.7" />
<line x1="145.2" y1="1203.4" x2="113.2" y2="1203.4" stroke="#0c0ce6" stroke-width="1.7" />
<line x1="145.2" y1="1191.5" x2="129.2" y2="1191.5" stroke="#0c0ce6" stroke-width="1.7" />
<line x1="145.2" y1="1179.6" x2="129.2" y2="1179.6" stroke="#0c0ce6" stroke-width="1.7" />
<line x1="145.2" y1="1167.7" x2="129.2" y2="1167.7" stroke="#0c0ce6" stroke-width="1.7" />
<line x1="145.2" y1="1155.8" x2="129.2" y2="1155.8" stroke="#0c0ce6" stroke-width="1.7" />
<line x1="145.2" y1="1144.0" x2="113.2" y2="1144.0" stroke="#0c0ce6" stroke-width="1.7" />
<line x1="145.2" y1="1132.1" x2="129.2" y2="1132.1" stroke="#0c0ce6" stroke-width="1.7" />
<line x1="145.2" y1="1120.2" x2="129.2" y2="1120.2" stroke="#0c0ce6" stroke-width="1.7" />
<line x1="145.2" y1="1108.3" x2="129.2" y2="1108.3" stroke="#0c0ce6" stroke-width="1.7" />
<line x1="145.2" y1="1096.4" x2="129.2" y2="1096.4" stroke="#0c0ce6" stroke-width="1.7" />
<line x1="145.2" y1="1084.5" x2="113.2" y2="1084.5" stroke="#0c0ce6" stroke-width="1.7" />
<line x1="145.2" y1="1072.6" x2="129.2" y2="1072.6" stroke="#0c0ce6" stroke-width="1.7" />
<line x1="145.2" y1="1060.7" x2="129.2" y2="1060.7" stroke="#0c0ce6" stroke-width="1.7" />
<line x1="145.2" y1="1048.8" x2="129.2" y2="1048.8" stroke="#0c0ce6" stroke-width="1.7" />
<line x1="145.2" y1="1036.9" x2="129.2" y2="1036.9" stroke="#0c0ce6" stroke-width="1.7" />
<line x1="145.2" y1="1025.0" x2="113.2" y2="1025.0" stroke="#0c0ce6" stroke-width="1.7" />
<text transform="translate(97.4,1270.6) scale(1,1.03)" fill="#0c0ce6" font-size="22" text-anchor="end">0.0</text>
<text transform="translate(97.4,1211.1) scale(1,1.03)" fill="#0c0ce6" font-size="22" text-anchor="end">0.5</text>
<text transform="translate(97.4,1151.6) scale(1,1.03)" fill="#0c0ce6" font-size="22" text-anchor="end">1.0</text>
<text transform="translate(97.4,1092.1) scale(1,1.03)" fill="#0c0ce6" font-size="22" text-anchor="end">1.5</text>
<text transform="translate(97.4,1032.7) scale(1,1.03)" fill="#0c0ce6" font-size="22" text-anchor="end">2.0</text>
<text transform="translate(54.2,1144.0) rotate(-90) scale(1,1.03)" fill="#0c0ce6" font-size="22" text-anchor="middle">U (m/s)</text>
<line x1="621.5" y1="1024.2" x2="621.5" y2="1263.7" stroke="#168c36" stroke-width="1.7" />
<line x1="621.5" y1="1262.9" x2="653.2" y2="1262.9" stroke="#4da566" stroke-width="1.1" />
<line x1="621.5" y1="1251.0" x2="637.9" y2="1251.0" stroke="#168c36" stroke-width="1.7" />
<line x1="621.5" y1="1239.1" x2="637.9" y2="1239.1" stroke="#168c36" stroke-width="1.7" />
<line x1="621.5" y1="1227.2" x2="637.9" y2="1227.2" stroke="#168c36" stroke-width="1.7" />
<line x1="621.5" y1="1215.3" x2="637.9" y2="1215.3" stroke="#168c36" stroke-width="1.7" />
<line x1="621.5" y1="1203.4" x2="653.2" y2="1203.4" stroke="#4da566" stroke-width="1.1" />
<line x1="621.5" y1="1191.5" x2="637.9" y2="1191.5" stroke="#168c36" stroke-width="1.7" />
<line x1="621.5" y1="1179.6" x2="637.9" y2="1179.6" stroke="#168c36" stroke-width="1.7" />
<line x1="621.5" y1="1167.7" x2="637.9" y2="1167.7" stroke="#168c36" stroke-width="1.7" />
<line x1="621.5" y1="1155.8" x2="637.9" y2="1155.8" stroke="#168c36" stroke-width="1.7" />
<line x1="621.5" y1="1144.0" x2="653.2" y2="1144.0" stroke="#4da566" stroke-width="1.1" />
<line x1="621.5" y1="1132.1" x2="637.9" y2="1132.1" stroke="#168c36" stroke-width="1.7" />
<line x1="621.5" y1="1120.2" x2="637.9" y2="1120.2" stroke="#168c36" stroke-width="1.7" />
<line x1="621.5" y1="1108.3" x2="637.9" y2="1108.3" stroke="#168c36" stroke-width="1.7" />
<line x1="621.5" y1="1096.4" x2="637.9" y2="1096.4" stroke="#168c36" stroke-width="1.7" />
<line x1="621.5" y1="1084.5" x2="653.2" y2="1084.5" stroke="#4da566" stroke-width="1.1" />
<line x1="621.5" y1="1072.6" x2="637.9" y2="1072.6" stroke="#168c36" stroke-width="1.7" />
<line x1="621.5" y1="1060.7" x2="637.9" y2="1060.7" stroke="#168c36" stroke-width="1.7" />
<line x1="621.5" y1="1048.8" x2="637.9" y2="1048.8" stroke="#168c36" stroke-width="1.7" />
<line x1="621.5" y1="1036.9" x2="637.9" y2="1036.9" stroke="#168c36" stroke-width="1.7" />
<line x1="621.5" y1="1025.0" x2="653.2" y2="1025.0" stroke="#4da566" stroke-width="1.1" />
<text transform="translate(669.4,1270.6) scale(1,1.03)" fill="#168c36" font-size="22" text-anchor="start">0.0</text>
<text transform="translate(669.4,1211.1) scale(1,1.03)" fill="#168c36" font-size="22" text-anchor="start">0.5</text>
<text transform="translate(669.4,1151.6) scale(1,1.03)" fill="#168c36" font-size="22" text-anchor="start">1.0</text>
<text transform="translate(669.4,1092.1) scale(1,1.03)" fill="#168c36" font-size="22" text-anchor="start">1.5</text>
<text transform="translate(669.4,1032.7) scale(1,1.03)" fill="#168c36" font-size="22" text-anchor="start">2.0</text>
<text transform="translate(736.5,1144.0) rotate(-90) scale(1,1.03)" fill="#168c36" font-size="22" text-anchor="middle">c (m/s)</text>
<line x1="143.8" y1="1294.1" x2="143.8" y2="1422.9" stroke="#d83434" stroke-width="2.0" />
<line x1="143.8" y1="1422.0" x2="111.8" y2="1422.0" stroke="#ea1c1c" stroke-width="1.7" />
<line x1="143.8" y1="1379.7" x2="127.6" y2="1379.7" stroke="#ea1c1c" stroke-width="1.7" />
<line x1="143.8" y1="1337.3" x2="111.8" y2="1337.3" stroke="#ea1c1c" stroke-width="1.7" />
<line x1="143.8" y1="1295.0" x2="127.6" y2="1295.0" stroke="#ea1c1c" stroke-width="1.7" />
<text transform="translate(96.0,1429.7) scale(1,1.03)" fill="#ea1c1c" font-size="22" text-anchor="end">0.0</text>
<text transform="translate(96.0,1345.0) scale(1,1.03)" fill="#ea1c1c" font-size="22" text-anchor="end">1.0</text>
<text transform="translate(52.8,1358.5) rotate(-90) scale(1,1.03)" fill="#ea1c1c" font-size="22" text-anchor="middle">F</text>
<line x1="620.4" y1="1294.0" x2="620.4" y2="1423.0" stroke="#111" stroke-width="2.1" />
<line x1="620.4" y1="1422.0" x2="651.9" y2="1422.0" stroke="#111" stroke-width="2.1" />
<line x1="620.4" y1="1379.7" x2="636.4" y2="1379.7" stroke="#111" stroke-width="2.1" />
<line x1="620.4" y1="1337.3" x2="651.9" y2="1337.3" stroke="#111" stroke-width="2.1" />
<line x1="620.4" y1="1295.0" x2="636.4" y2="1295.0" stroke="#111" stroke-width="2.1" />
<text transform="translate(668.3,1429.7) scale(1,1.03)" fill="#111" font-size="22" text-anchor="start">0.0</text>
<text transform="translate(668.3,1345.0) scale(1,1.03)" fill="#111" font-size="22" text-anchor="start">1.0</text>
<text transform="translate(735.4,1358.5) rotate(-90) scale(1,1.03)" fill="#111" font-size="22" text-anchor="middle">G</text>
<text transform="translate(169.6,1480.6) scale(1,1.03)" fill="#000" font-size="22" text-anchor="middle">6/5 000</text>
<text transform="translate(288.4,1480.6) scale(1,1.03)" fill="#000" font-size="22" text-anchor="middle">6/5 600</text>
<text transform="translate(407.3,1480.6) scale(1,1.03)" fill="#000" font-size="22" text-anchor="middle">6/5 1200</text>
<text transform="translate(526.1,1480.6) scale(1,1.03)" fill="#000" font-size="22" text-anchor="middle">6/5 1800</text>
<text transform="translate(383.0,1506.2) scale(1,1.03)" fill="#000" font-size="22" text-anchor="middle">2015</text>
<text transform="translate(2.0,1008.0) scale(1,1.0)" fill="#000" font-size="27" text-anchor="start">(d)</text>
</g>
<g id="panel-e">
<rect x="969.2" y="1025.6" width="135.8" height="395.6" fill="#ffb482"/>
<rect x="1256.6" y="1025.6" width="50.6" height="395.6" fill="#ffb482"/>
<line x1="950.8" y1="1025.5" x2="950.8" y2="1262.9" stroke="#9a9a9a" stroke-width="1.3" stroke-dasharray="15.5 16.3"/>
<line x1="1069.8" y1="1025.5" x2="1069.8" y2="1262.9" stroke="#2e2e2e" stroke-width="1.3" stroke-dasharray="15.5 16.3"/>
<line x1="1188.8" y1="1025.5" x2="1188.8" y2="1262.9" stroke="#9a9a9a" stroke-width="1.3" stroke-dasharray="15.5 16.3"/>
<line x1="1307.8" y1="1025.5" x2="1307.8" y2="1262.9" stroke="#2e2e2e" stroke-width="1.3" stroke-dasharray="15.5 16.3"/>
<line x1="903.1" y1="1421.7" x2="1378.9" y2="1421.7" stroke="#8a8a8a" stroke-width="1.7" />
<line x1="950.8" y1="1422.0" x2="950.8" y2="1446.0" stroke="#777" stroke-width="1.4" />
<line x1="1010.3" y1="1422.0" x2="1010.3" y2="1437.3" stroke="#777" stroke-width="1.4" />
<line x1="1069.8" y1="1422.0" x2="1069.8" y2="1446.0" stroke="#777" stroke-width="1.4" />
<line x1="1129.3" y1="1422.0" x2="1129.3" y2="1437.3" stroke="#777" stroke-width="1.4" />
<line x1="1188.8" y1="1422.0" x2="1188.8" y2="1446.0" stroke="#777" stroke-width="1.4" />
<line x1="1248.3" y1="1422.0" x2="1248.3" y2="1437.3" stroke="#777" stroke-width="1.4" />
<line x1="1307.8" y1="1422.0" x2="1307.8" y2="1446.0" stroke="#777" stroke-width="1.4" />
<line x1="1367.3" y1="1422.0" x2="1367.3" y2="1437.3" stroke="#777" stroke-width="1.4" />
<line x1="901.6" y1="1337.3" x2="1378.9" y2="1337.3" stroke="#4a4a4a" stroke-width="1.5" />
<path d="M912.6,1198.6 C915.8,1198.8 925.1,1199.6 931.5,1199.9 C937.9,1200.2 944.5,1200.5 950.7,1200.7 C957.0,1200.9 962.8,1201.1 969.0,1201.1 C975.2,1201.1 981.3,1201.1 988.2,1200.7 C995.1,1200.3 1003.2,1199.5 1010.3,1198.6 C1017.4,1197.7 1024.0,1196.5 1030.8,1195.5 C1037.6,1194.5 1044.8,1193.7 1051.3,1192.8 C1057.8,1191.9 1063.6,1190.9 1069.9,1190.1 C1076.2,1189.3 1083.3,1188.6 1089.1,1188.1 C1094.9,1187.6 1098.2,1187.4 1104.8,1187.3 C1111.4,1187.2 1118.7,1186.8 1128.5,1187.3 C1138.3,1187.8 1153.5,1189.2 1163.6,1190.4 C1173.6,1191.6 1180.9,1193.4 1188.8,1194.4 C1196.7,1195.5 1203.3,1196.1 1210.9,1196.7 C1218.5,1197.3 1226.9,1197.9 1234.5,1198.0 C1242.1,1198.1 1248.7,1197.9 1256.6,1197.5 C1264.5,1197.1 1273.3,1196.4 1281.8,1195.5 C1290.3,1194.6 1299.9,1193.0 1307.8,1192.0 C1315.7,1191.0 1321.6,1190.2 1329.1,1189.6 C1336.6,1188.9 1345.8,1188.3 1352.7,1188.1 C1359.6,1187.8 1367.5,1188.1 1370.4,1188.1" fill="none" stroke="#168c36" stroke-width="1.0" stroke-linejoin="round" stroke-opacity="0.72"/>
<path d="M912.6,1194.4 C915.8,1194.5 925.1,1194.9 931.5,1195.2 C937.9,1195.5 944.5,1196.2 950.7,1196.4 C957.0,1196.6 962.8,1197.3 969.0,1196.4 C975.2,1195.5 981.3,1193.2 988.2,1191.2 C995.1,1189.2 1003.2,1186.3 1010.3,1184.1 C1017.4,1181.9 1024.0,1179.3 1030.8,1177.8 C1037.6,1176.3 1044.8,1175.5 1051.3,1175.0 C1057.8,1174.5 1061.0,1174.5 1069.9,1174.7 C1078.8,1174.9 1095.0,1175.4 1104.8,1175.9 C1114.6,1176.4 1118.7,1176.8 1128.5,1177.8 C1138.3,1178.8 1153.5,1180.3 1163.6,1181.8 C1173.6,1183.2 1180.9,1185.1 1188.8,1186.5 C1196.7,1187.9 1203.3,1189.2 1210.9,1190.4 C1218.5,1191.6 1226.9,1192.9 1234.5,1193.9 C1242.1,1194.9 1248.7,1195.7 1256.6,1196.4 C1264.5,1197.1 1273.3,1197.7 1281.8,1198.0 C1290.3,1198.3 1299.9,1198.2 1307.8,1198.0 C1315.7,1197.8 1321.6,1197.4 1329.1,1197.0 C1336.6,1196.6 1345.8,1195.9 1352.7,1195.5 C1359.6,1195.1 1367.5,1194.9 1370.4,1194.8" fill="none" stroke="#168c36" stroke-width="3.4" stroke-linejoin="round" stroke-linecap="round"/>
<path d="M912.6,1162.8 C915.8,1163.2 925.1,1164.2 931.5,1164.9 C937.9,1165.6 944.5,1166.2 950.7,1166.8 C957.0,1167.4 962.8,1168.5 969.0,1168.4 C975.2,1168.3 981.3,1167.2 988.2,1166.0 C995.1,1164.8 1003.2,1162.9 1010.3,1161.3 C1017.4,1159.7 1024.0,1157.8 1030.8,1156.5 C1037.6,1155.2 1044.8,1154.2 1051.3,1153.4 C1057.8,1152.6 1061.0,1152.2 1069.9,1151.8 C1078.8,1151.3 1095.0,1150.9 1104.8,1150.7 C1114.6,1150.5 1121.9,1150.6 1128.5,1150.7 C1135.1,1150.8 1138.4,1150.8 1144.2,1151.3 C1150.0,1151.8 1156.2,1152.7 1163.6,1153.4 C1171.0,1154.1 1180.9,1154.2 1188.8,1155.4 C1196.7,1156.6 1203.3,1159.0 1210.9,1160.5 C1218.5,1162.0 1226.9,1163.4 1234.5,1164.4 C1242.1,1165.5 1248.7,1166.2 1256.6,1166.8 C1264.5,1167.4 1275.0,1167.8 1281.8,1168.0 C1288.6,1168.2 1293.3,1168.2 1297.6,1168.0 C1301.9,1167.8 1302.5,1167.7 1307.8,1167.1 C1313.0,1166.5 1321.6,1165.3 1329.1,1164.4 C1336.6,1163.5 1345.8,1162.4 1352.7,1161.7 C1359.6,1161.0 1367.5,1160.5 1370.4,1160.2" fill="none" stroke="#168c36" stroke-width="3.4" stroke-linejoin="round" stroke-dasharray="11.2 20.5" stroke-linecap="round"/>
<path d="M912.6,1166.0 C915.8,1166.2 925.1,1166.6 931.5,1167.1 C937.9,1167.5 944.5,1168.0 950.7,1168.7 C957.0,1169.4 962.8,1170.6 969.0,1171.2 C975.2,1171.8 981.3,1172.2 988.2,1172.3 C995.1,1172.3 1003.2,1172.0 1010.3,1171.5 C1017.4,1171.0 1024.0,1170.0 1030.8,1169.2 C1037.6,1168.4 1044.8,1167.4 1051.3,1166.5 C1057.8,1165.6 1063.6,1164.5 1069.9,1163.6 C1076.2,1162.6 1083.3,1161.4 1089.1,1160.8 C1094.9,1160.2 1098.2,1160.0 1104.8,1159.7 C1111.4,1159.4 1118.7,1158.9 1128.5,1158.9 C1138.3,1158.9 1153.5,1159.3 1163.6,1159.7 C1173.6,1160.1 1180.9,1160.7 1188.8,1161.3 C1196.7,1161.9 1203.3,1162.9 1210.9,1163.6 C1218.5,1164.3 1226.9,1165.0 1234.5,1165.5 C1242.1,1166.0 1248.7,1166.6 1256.6,1166.8 C1264.5,1167.0 1275.0,1166.8 1281.8,1166.5 C1288.6,1166.2 1293.3,1165.7 1297.6,1165.2 C1301.9,1164.7 1302.5,1164.4 1307.8,1163.6 C1313.0,1162.8 1321.6,1161.2 1329.1,1160.2 C1336.6,1159.2 1345.8,1158.0 1352.7,1157.3 C1359.6,1156.6 1367.5,1156.0 1370.4,1155.8" fill="none" stroke="#168c36" stroke-width="3.4" stroke-linejoin="round" stroke-dasharray="0.4 7.55" stroke-linecap="round"/>
<path d="M912.6,1236.1 C915.8,1237.5 925.1,1242.9 931.5,1244.8 C937.9,1246.7 944.5,1247.3 950.7,1247.2 C957.0,1247.1 962.8,1245.1 969.0,1244.0 C975.2,1242.9 981.3,1241.1 988.2,1240.8 C995.1,1240.5 1003.2,1241.3 1010.3,1242.1 C1017.4,1242.9 1024.0,1244.2 1030.8,1245.6 C1037.6,1247.0 1044.8,1249.3 1051.3,1250.3 C1057.8,1251.3 1063.6,1251.9 1069.9,1251.6 C1076.2,1251.3 1083.3,1249.7 1089.1,1248.7 C1094.9,1247.8 1098.2,1246.7 1104.8,1245.9 C1111.4,1245.1 1121.9,1244.0 1128.5,1244.0 C1135.1,1244.0 1138.4,1244.6 1144.2,1245.9 C1150.0,1247.2 1156.2,1249.3 1163.6,1251.9 C1171.0,1254.5 1180.9,1261.0 1188.8,1261.3 C1196.7,1261.6 1203.3,1255.3 1210.9,1253.5 C1218.5,1251.7 1226.9,1251.2 1234.5,1250.6 C1242.1,1250.0 1250.0,1250.2 1256.6,1250.0 C1263.2,1249.8 1268.4,1250.2 1273.9,1249.5 C1279.4,1248.8 1284.1,1247.3 1289.7,1245.6 C1295.3,1243.8 1301.2,1241.7 1307.8,1239.0 C1314.4,1236.3 1321.6,1232.1 1329.1,1229.5 C1336.6,1226.9 1345.8,1224.4 1352.7,1223.2 C1359.6,1222.0 1367.5,1222.5 1370.4,1222.3" fill="none" stroke="#0c0ce6" stroke-width="1.0" stroke-linejoin="round" stroke-opacity="0.85"/>
<path d="M912.6,1247.2 C915.8,1247.2 925.1,1248.4 931.5,1247.2 C937.9,1246.0 944.5,1242.5 950.7,1240.1 C957.0,1237.7 962.8,1234.8 969.0,1233.0 C975.2,1231.2 981.3,1230.0 988.2,1229.5 C995.1,1229.0 1003.2,1228.8 1010.3,1229.8 C1017.4,1230.8 1024.0,1233.5 1030.8,1235.3 C1037.6,1237.1 1044.8,1239.5 1051.3,1240.8 C1057.8,1242.1 1063.6,1243.3 1069.9,1243.2 C1076.2,1243.1 1083.3,1241.1 1089.1,1240.1 C1094.9,1239.0 1098.2,1237.9 1104.8,1236.9 C1111.4,1235.9 1121.9,1234.7 1128.5,1234.2 C1135.1,1233.8 1138.4,1233.9 1144.2,1234.2 C1150.0,1234.5 1156.2,1234.7 1163.6,1235.8 C1171.0,1236.9 1181.4,1239.6 1188.8,1240.8 C1196.2,1242.0 1200.2,1243.2 1207.8,1243.2 C1215.4,1243.2 1226.4,1241.4 1234.5,1240.8 C1242.6,1240.2 1250.5,1239.7 1256.6,1239.6 C1262.6,1239.5 1265.3,1239.4 1270.8,1240.1 C1276.3,1240.8 1283.5,1242.0 1289.7,1243.7 C1295.9,1245.4 1301.2,1248.8 1307.8,1250.3 C1314.4,1251.8 1321.6,1252.3 1329.1,1252.7 C1336.6,1253.1 1345.8,1252.7 1352.7,1252.7 C1359.6,1252.7 1367.5,1252.7 1370.4,1252.7" fill="none" stroke="#0c0ce6" stroke-width="3.4" stroke-linejoin="round" stroke-linecap="round"/>
<path d="M912.6,1244.8 C915.8,1245.3 925.1,1247.7 931.5,1247.9 C937.9,1248.1 944.5,1246.9 950.7,1245.9 C957.0,1244.9 962.8,1243.2 969.0,1242.1 C975.2,1241.0 981.3,1239.6 988.2,1239.3 C995.1,1239.0 1003.2,1239.2 1010.3,1240.1 C1017.4,1241.0 1024.0,1243.4 1030.8,1244.8 C1037.6,1246.2 1044.8,1248.0 1051.3,1248.7 C1057.8,1249.4 1063.6,1249.8 1069.9,1248.7 C1076.2,1247.7 1083.3,1244.1 1089.1,1242.4 C1094.9,1240.7 1098.2,1239.7 1104.8,1238.5 C1111.4,1237.3 1120.0,1235.8 1128.5,1235.3 C1137.0,1234.8 1148.6,1234.5 1155.8,1235.3 C1163.0,1236.1 1166.0,1238.0 1171.5,1240.1 C1177.0,1242.2 1183.5,1245.9 1188.8,1247.9 C1194.0,1249.9 1198.0,1251.0 1203.0,1251.9 C1208.0,1252.8 1213.5,1252.8 1218.8,1253.1 C1224.0,1253.4 1228.2,1253.4 1234.5,1253.5 C1240.8,1253.6 1248.7,1253.8 1256.6,1253.8 C1264.5,1253.8 1275.0,1253.9 1281.8,1253.8 C1288.6,1253.7 1293.3,1253.4 1297.6,1253.1 C1301.9,1252.8 1302.5,1253.2 1307.8,1251.9 C1313.0,1250.7 1321.6,1247.6 1329.1,1245.6 C1336.6,1243.6 1345.8,1241.4 1352.7,1240.1 C1359.6,1238.8 1367.5,1238.1 1370.4,1237.7" fill="none" stroke="#0c0ce6" stroke-width="3.4" stroke-linejoin="round" stroke-dasharray="11.2 20.5" stroke-linecap="round"/>
<path d="M912.6,1237.7 C915.8,1239.3 925.1,1245.4 931.5,1247.2 C937.9,1249.0 944.5,1248.8 950.7,1248.7 C957.0,1248.6 962.8,1247.2 969.0,1246.4 C975.2,1245.6 981.3,1244.1 988.2,1243.7 C995.1,1243.3 1003.2,1243.3 1010.3,1244.0 C1017.4,1244.7 1024.0,1246.5 1030.8,1247.9 C1037.6,1249.4 1044.8,1251.9 1051.3,1252.7 C1057.8,1253.5 1063.6,1253.4 1069.9,1252.7 C1076.2,1252.0 1083.3,1250.0 1089.1,1248.7 C1094.9,1247.4 1098.2,1245.7 1104.8,1244.8 C1111.4,1243.9 1121.9,1243.3 1128.5,1243.2 C1135.1,1243.1 1138.4,1243.4 1144.2,1244.3 C1150.0,1245.2 1156.2,1246.5 1163.6,1248.7 C1171.0,1250.9 1182.2,1256.0 1188.8,1257.4 C1195.4,1258.9 1198.0,1257.9 1203.0,1257.4 C1208.0,1257.0 1213.5,1255.4 1218.8,1254.7 C1224.0,1254.0 1228.2,1253.8 1234.5,1253.5 C1240.8,1253.2 1250.0,1253.2 1256.6,1252.7 C1263.2,1252.2 1268.4,1251.0 1273.9,1250.3 C1279.4,1249.6 1284.1,1250.0 1289.7,1248.7 C1295.3,1247.4 1301.2,1245.2 1307.8,1242.4 C1314.4,1239.7 1321.6,1235.0 1329.1,1232.2 C1336.6,1229.5 1345.8,1227.1 1352.7,1225.9 C1359.6,1224.7 1367.5,1225.0 1370.4,1224.8" fill="none" stroke="#0c0ce6" stroke-width="3.4" stroke-linejoin="round" stroke-dasharray="0.4 7.55" stroke-linecap="round"/>
<path d="M912.6,1403.0 C915.8,1403.9 925.1,1407.3 931.5,1408.5 C937.9,1409.7 944.5,1410.5 950.7,1410.4 C957.0,1410.4 962.5,1409.0 969.0,1408.2 C975.5,1407.4 982.6,1406.0 989.8,1405.7 C996.9,1405.4 1005.1,1406.0 1011.9,1406.6 C1018.7,1407.2 1024.2,1408.2 1030.8,1409.3 C1037.4,1410.3 1044.8,1412.1 1051.3,1412.9 C1057.8,1413.7 1063.6,1414.2 1069.9,1414.0 C1076.2,1413.8 1082.8,1412.7 1089.1,1412.0 C1095.4,1411.3 1100.9,1410.4 1108.0,1409.8 C1115.1,1409.2 1125.0,1408.2 1131.6,1408.2 C1138.2,1408.2 1142.1,1409.0 1147.4,1409.8 C1152.7,1410.6 1156.7,1411.5 1163.6,1413.2 C1170.5,1415.0 1180.9,1420.0 1188.8,1420.3 C1196.7,1420.6 1203.3,1416.1 1210.9,1414.8 C1218.5,1413.5 1226.9,1413.0 1234.5,1412.5 C1242.1,1412.0 1250.0,1412.1 1256.6,1412.0 C1263.2,1411.9 1268.4,1412.3 1273.9,1411.7 C1279.4,1411.1 1284.1,1409.8 1289.7,1408.5 C1295.3,1407.2 1301.2,1405.6 1307.8,1403.8 C1314.4,1402.0 1322.4,1399.3 1329.1,1397.5 C1335.8,1395.7 1341.1,1393.9 1348.0,1393.1 C1354.9,1392.2 1366.7,1392.5 1370.4,1392.4" fill="none" stroke="#f40000" stroke-width="1.0" stroke-linejoin="round" stroke-opacity="0.85"/>
<path d="M912.6,1411.4 C915.8,1411.3 925.1,1411.9 931.5,1410.9 C937.9,1409.9 944.5,1407.2 950.7,1405.4 C957.0,1403.6 962.5,1401.6 969.0,1400.3 C975.5,1399.0 982.6,1397.9 989.8,1397.5 C996.9,1397.1 1005.1,1397.1 1011.9,1397.8 C1018.7,1398.5 1024.2,1400.2 1030.8,1401.4 C1037.4,1402.6 1044.8,1404.1 1051.3,1405.0 C1057.8,1405.9 1063.6,1407.0 1069.9,1406.9 C1076.2,1406.8 1082.8,1405.4 1089.1,1404.6 C1095.4,1403.8 1100.9,1402.9 1108.0,1402.2 C1115.1,1401.5 1125.0,1400.8 1131.6,1400.6 C1138.2,1400.4 1140.8,1400.7 1147.4,1401.0 C1154.1,1401.3 1164.6,1401.7 1171.5,1402.5 C1178.4,1403.3 1182.8,1405.0 1188.8,1405.7 C1194.8,1406.4 1201.2,1406.6 1207.8,1406.6 C1214.4,1406.5 1221.1,1405.8 1228.2,1405.4 C1235.3,1405.0 1243.2,1404.2 1250.3,1404.1 C1257.4,1404.0 1264.2,1404.1 1270.8,1404.6 C1277.4,1405.1 1283.5,1406.1 1289.7,1407.3 C1295.9,1408.5 1301.2,1410.6 1307.8,1411.7 C1314.4,1412.8 1322.4,1413.5 1329.1,1414.0 C1335.8,1414.5 1341.1,1414.4 1348.0,1414.5 C1354.9,1414.6 1366.7,1414.5 1370.4,1414.5" fill="none" stroke="#f40000" stroke-width="3.4" stroke-linejoin="round" stroke-linecap="round"/>
<path d="M912.6,1409.3 C915.8,1409.7 925.1,1411.3 931.5,1411.4 C937.9,1411.5 944.5,1410.5 950.7,1409.8 C957.0,1409.0 962.5,1407.6 969.0,1406.9 C975.5,1406.2 982.6,1405.6 989.8,1405.4 C996.9,1405.2 1005.1,1405.2 1011.9,1405.7 C1018.7,1406.2 1024.2,1407.5 1030.8,1408.5 C1037.4,1409.5 1044.8,1411.1 1051.3,1411.7 C1057.8,1412.3 1063.6,1412.7 1069.9,1412.0 C1076.2,1411.3 1082.8,1409.0 1089.1,1407.7 C1095.4,1406.4 1100.9,1405.1 1108.0,1404.1 C1115.1,1403.0 1123.6,1401.7 1131.6,1401.4 C1139.6,1401.1 1149.1,1401.5 1155.8,1402.2 C1162.5,1402.9 1166.0,1404.0 1171.5,1405.4 C1177.0,1406.9 1183.5,1409.4 1188.8,1410.9 C1194.0,1412.4 1198.0,1413.7 1203.0,1414.5 C1208.0,1415.3 1210.9,1415.4 1218.8,1415.6 C1226.7,1415.8 1239.8,1415.7 1250.3,1415.6 C1260.8,1415.5 1273.9,1415.4 1281.8,1415.1 C1289.7,1414.8 1293.3,1414.4 1297.6,1414.0 C1301.9,1413.6 1302.5,1413.4 1307.8,1412.5 C1313.0,1411.6 1321.6,1409.8 1329.1,1408.5 C1336.6,1407.2 1345.8,1405.6 1352.7,1404.6 C1359.6,1403.6 1367.5,1402.8 1370.4,1402.5" fill="none" stroke="#f40000" stroke-width="3.4" stroke-linejoin="round" stroke-dasharray="11.2 20.5" stroke-linecap="round"/>
<path d="M912.6,1403.8 C915.8,1404.8 925.1,1408.8 931.5,1410.1 C937.9,1411.4 944.5,1411.5 950.7,1411.4 C957.0,1411.4 962.5,1410.4 969.0,1409.8 C975.5,1409.2 982.6,1408.0 989.8,1407.7 C996.9,1407.4 1005.1,1407.2 1011.9,1407.7 C1018.7,1408.2 1024.2,1409.8 1030.8,1410.9 C1037.4,1412.0 1044.8,1413.8 1051.3,1414.5 C1057.8,1415.2 1063.6,1415.5 1069.9,1415.1 C1076.2,1414.7 1082.8,1413.0 1089.1,1412.0 C1095.4,1411.0 1100.9,1409.5 1108.0,1408.8 C1115.1,1408.1 1125.0,1407.7 1131.6,1407.7 C1138.2,1407.7 1142.1,1408.1 1147.4,1408.8 C1152.7,1409.5 1156.7,1410.1 1163.6,1411.7 C1170.5,1413.3 1182.2,1417.2 1188.8,1418.3 C1195.4,1419.3 1198.0,1418.4 1203.0,1418.0 C1208.0,1417.6 1210.9,1416.6 1218.8,1416.1 C1226.7,1415.6 1241.1,1415.4 1250.3,1415.1 C1259.5,1414.8 1267.3,1414.6 1273.9,1414.0 C1280.5,1413.4 1284.1,1412.9 1289.7,1411.7 C1295.3,1410.5 1301.2,1409.0 1307.8,1406.9 C1314.4,1404.9 1322.4,1401.4 1329.1,1399.4 C1335.8,1397.4 1341.1,1396.0 1348.0,1395.1 C1354.9,1394.2 1366.7,1394.2 1370.4,1394.0" fill="none" stroke="#f40000" stroke-width="3.4" stroke-linejoin="round" stroke-dasharray="0.4 7.55" stroke-linecap="round"/>
<path d="M912.6,1391.5 C915.8,1392.7 925.1,1397.7 931.5,1398.7 C937.9,1399.8 944.5,1399.0 950.7,1397.8 C957.0,1396.5 962.5,1393.2 969.0,1391.2 C975.5,1389.2 982.6,1386.9 989.8,1386.1 C996.9,1385.2 1005.1,1385.1 1011.9,1386.1 C1018.7,1387.1 1024.2,1389.8 1030.8,1392.0 C1037.4,1394.2 1044.8,1397.3 1051.3,1399.1 C1057.8,1400.8 1063.6,1403.0 1069.9,1402.5 C1076.2,1402.0 1082.8,1398.1 1089.1,1395.9 C1095.4,1393.8 1100.9,1391.0 1108.0,1389.6 C1115.1,1388.1 1125.0,1387.3 1131.6,1387.2 C1138.2,1387.1 1140.8,1387.2 1147.4,1388.8 C1154.1,1390.4 1164.6,1394.3 1171.5,1396.7 C1178.4,1399.1 1182.8,1401.4 1188.8,1403.0 C1194.8,1404.6 1201.2,1406.1 1207.8,1406.2 C1214.4,1406.3 1221.1,1404.2 1228.2,1403.5 C1235.3,1402.8 1243.2,1402.1 1250.3,1401.9 C1257.4,1401.7 1264.5,1402.2 1270.8,1402.2 C1277.1,1402.2 1281.9,1402.8 1288.1,1401.9 C1294.3,1401.0 1301.0,1399.2 1307.8,1396.7 C1314.6,1394.2 1322.4,1390.0 1329.1,1387.2 C1335.8,1384.5 1341.1,1381.7 1348.0,1380.2 C1354.9,1378.7 1366.7,1378.6 1370.4,1378.3" fill="none" stroke="#000000" stroke-width="3.4" stroke-linejoin="round" stroke-linecap="round"/>
<line x1="903.1" y1="1024.2" x2="903.1" y2="1263.7" stroke="#0c0ce6" stroke-width="1.7" />
<line x1="903.1" y1="1262.9" x2="871.1" y2="1262.9" stroke="#0c0ce6" stroke-width="1.7" />
<line x1="903.1" y1="1251.0" x2="887.1" y2="1251.0" stroke="#0c0ce6" stroke-width="1.7" />
<line x1="903.1" y1="1239.1" x2="887.1" y2="1239.1" stroke="#0c0ce6" stroke-width="1.7" />
<line x1="903.1" y1="1227.2" x2="887.1" y2="1227.2" stroke="#0c0ce6" stroke-width="1.7" />
<line x1="903.1" y1="1215.3" x2="887.1" y2="1215.3" stroke="#0c0ce6" stroke-width="1.7" />
<line x1="903.1" y1="1203.4" x2="871.1" y2="1203.4" stroke="#0c0ce6" stroke-width="1.7" />
<line x1="903.1" y1="1191.5" x2="887.1" y2="1191.5" stroke="#0c0ce6" stroke-width="1.7" />
<line x1="903.1" y1="1179.6" x2="887.1" y2="1179.6" stroke="#0c0ce6" stroke-width="1.7" />
<line x1="903.1" y1="1167.7" x2="887.1" y2="1167.7" stroke="#0c0ce6" stroke-width="1.7" />
<line x1="903.1" y1="1155.8" x2="887.1" y2="1155.8" stroke="#0c0ce6" stroke-width="1.7" />
<line x1="903.1" y1="1144.0" x2="871.1" y2="1144.0" stroke="#0c0ce6" stroke-width="1.7" />
<line x1="903.1" y1="1132.1" x2="887.1" y2="1132.1" stroke="#0c0ce6" stroke-width="1.7" />
<line x1="903.1" y1="1120.2" x2="887.1" y2="1120.2" stroke="#0c0ce6" stroke-width="1.7" />
<line x1="903.1" y1="1108.3" x2="887.1" y2="1108.3" stroke="#0c0ce6" stroke-width="1.7" />
<line x1="903.1" y1="1096.4" x2="887.1" y2="1096.4" stroke="#0c0ce6" stroke-width="1.7" />
<line x1="903.1" y1="1084.5" x2="871.1" y2="1084.5" stroke="#0c0ce6" stroke-width="1.7" />
<line x1="903.1" y1="1072.6" x2="887.1" y2="1072.6" stroke="#0c0ce6" stroke-width="1.7" />
<line x1="903.1" y1="1060.7" x2="887.1" y2="1060.7" stroke="#0c0ce6" stroke-width="1.7" />
<line x1="903.1" y1="1048.8" x2="887.1" y2="1048.8" stroke="#0c0ce6" stroke-width="1.7" />
<line x1="903.1" y1="1036.9" x2="887.1" y2="1036.9" stroke="#0c0ce6" stroke-width="1.7" />
<line x1="903.1" y1="1025.0" x2="871.1" y2="1025.0" stroke="#0c0ce6" stroke-width="1.7" />
<text transform="translate(855.3,1270.6) scale(1,1.03)" fill="#0c0ce6" font-size="22" text-anchor="end">0.0</text>
<text transform="translate(855.3,1211.1) scale(1,1.03)" fill="#0c0ce6" font-size="22" text-anchor="end">0.5</text>
<text transform="translate(855.3,1151.6) scale(1,1.03)" fill="#0c0ce6" font-size="22" text-anchor="end">1.0</text>
<text transform="translate(855.3,1092.1) scale(1,1.03)" fill="#0c0ce6" font-size="22" text-anchor="end">1.5</text>
<text transform="translate(855.3,1032.7) scale(1,1.03)" fill="#0c0ce6" font-size="22" text-anchor="end">2.0</text>
<text transform="translate(812.1,1144.0) rotate(-90) scale(1,1.03)" fill="#0c0ce6" font-size="22" text-anchor="middle">U (m/s)</text>
<line x1="1379.2" y1="1024.2" x2="1379.2" y2="1263.7" stroke="#168c36" stroke-width="1.7" />
<line x1="1379.2" y1="1262.9" x2="1410.9" y2="1262.9" stroke="#4da566" stroke-width="1.1" />
<line x1="1379.2" y1="1251.0" x2="1395.6" y2="1251.0" stroke="#168c36" stroke-width="1.7" />
<line x1="1379.2" y1="1239.1" x2="1395.6" y2="1239.1" stroke="#168c36" stroke-width="1.7" />
<line x1="1379.2" y1="1227.2" x2="1395.6" y2="1227.2" stroke="#168c36" stroke-width="1.7" />
<line x1="1379.2" y1="1215.3" x2="1395.6" y2="1215.3" stroke="#168c36" stroke-width="1.7" />
<line x1="1379.2" y1="1203.4" x2="1410.9" y2="1203.4" stroke="#4da566" stroke-width="1.1" />
<line x1="1379.2" y1="1191.5" x2="1395.6" y2="1191.5" stroke="#168c36" stroke-width="1.7" />
<line x1="1379.2" y1="1179.6" x2="1395.6" y2="1179.6" stroke="#168c36" stroke-width="1.7" />
<line x1="1379.2" y1="1167.7" x2="1395.6" y2="1167.7" stroke="#168c36" stroke-width="1.7" />
<line x1="1379.2" y1="1155.8" x2="1395.6" y2="1155.8" stroke="#168c36" stroke-width="1.7" />
<line x1="1379.2" y1="1144.0" x2="1410.9" y2="1144.0" stroke="#4da566" stroke-width="1.1" />
<line x1="1379.2" y1="1132.1" x2="1395.6" y2="1132.1" stroke="#168c36" stroke-width="1.7" />
<line x1="1379.2" y1="1120.2" x2="1395.6" y2="1120.2" stroke="#168c36" stroke-width="1.7" />
<line x1="1379.2" y1="1108.3" x2="1395.6" y2="1108.3" stroke="#168c36" stroke-width="1.7" />
<line x1="1379.2" y1="1096.4" x2="1395.6" y2="1096.4" stroke="#168c36" stroke-width="1.7" />
<line x1="1379.2" y1="1084.5" x2="1410.9" y2="1084.5" stroke="#4da566" stroke-width="1.1" />
<line x1="1379.2" y1="1072.6" x2="1395.6" y2="1072.6" stroke="#168c36" stroke-width="1.7" />
<line x1="1379.2" y1="1060.7" x2="1395.6" y2="1060.7" stroke="#168c36" stroke-width="1.7" />
<line x1="1379.2" y1="1048.8" x2="1395.6" y2="1048.8" stroke="#168c36" stroke-width="1.7" />
<line x1="1379.2" y1="1036.9" x2="1395.6" y2="1036.9" stroke="#168c36" stroke-width="1.7" />
<line x1="1379.2" y1="1025.0" x2="1410.9" y2="1025.0" stroke="#4da566" stroke-width="1.1" />
<text transform="translate(1427.1,1270.6) scale(1,1.03)" fill="#168c36" font-size="22" text-anchor="start">0.0</text>
<text transform="translate(1427.1,1211.1) scale(1,1.03)" fill="#168c36" font-size="22" text-anchor="start">0.5</text>
<text transform="translate(1427.1,1151.6) scale(1,1.03)" fill="#168c36" font-size="22" text-anchor="start">1.0</text>
<text transform="translate(1427.1,1092.1) scale(1,1.03)" fill="#168c36" font-size="22" text-anchor="start">1.5</text>
<text transform="translate(1427.1,1032.7) scale(1,1.03)" fill="#168c36" font-size="22" text-anchor="start">2.0</text>
<text transform="translate(1494.2,1144.0) rotate(-90) scale(1,1.03)" fill="#168c36" font-size="22" text-anchor="middle">c (m/s)</text>
<line x1="901.6" y1="1294.1" x2="901.6" y2="1422.9" stroke="#d83434" stroke-width="2.0" />
<line x1="901.6" y1="1422.0" x2="869.6" y2="1422.0" stroke="#ea1c1c" stroke-width="1.7" />
<line x1="901.6" y1="1379.7" x2="885.4" y2="1379.7" stroke="#ea1c1c" stroke-width="1.7" />
<line x1="901.6" y1="1337.3" x2="869.6" y2="1337.3" stroke="#ea1c1c" stroke-width="1.7" />
<line x1="901.6" y1="1295.0" x2="885.4" y2="1295.0" stroke="#ea1c1c" stroke-width="1.7" />
<text transform="translate(853.8,1429.7) scale(1,1.03)" fill="#ea1c1c" font-size="22" text-anchor="end">0.0</text>
<text transform="translate(853.8,1345.0) scale(1,1.03)" fill="#ea1c1c" font-size="22" text-anchor="end">1.0</text>
<text transform="translate(810.6,1358.5) rotate(-90) scale(1,1.03)" fill="#ea1c1c" font-size="22" text-anchor="middle">F</text>
<line x1="1378.9" y1="1294.0" x2="1378.9" y2="1423.0" stroke="#111" stroke-width="2.1" />
<line x1="1378.9" y1="1422.0" x2="1410.4" y2="1422.0" stroke="#111" stroke-width="2.1" />
<line x1="1378.9" y1="1379.7" x2="1394.9" y2="1379.7" stroke="#111" stroke-width="2.1" />
<line x1="1378.9" y1="1337.3" x2="1410.4" y2="1337.3" stroke="#111" stroke-width="2.1" />
<line x1="1378.9" y1="1295.0" x2="1394.9" y2="1295.0" stroke="#111" stroke-width="2.1" />
<text transform="translate(1426.8,1429.7) scale(1,1.03)" fill="#111" font-size="22" text-anchor="start">0.0</text>
<text transform="translate(1426.8,1345.0) scale(1,1.03)" fill="#111" font-size="22" text-anchor="start">1.0</text>
<text transform="translate(1493.9,1358.5) rotate(-90) scale(1,1.03)" fill="#111" font-size="22" text-anchor="middle">G</text>
<text transform="translate(950.8,1480.6) scale(1,1.03)" fill="#000" font-size="22" text-anchor="middle">6/12 000</text>
<text transform="translate(1069.8,1480.6) scale(1,1.03)" fill="#000" font-size="22" text-anchor="middle">6/12 600</text>
<text transform="translate(1188.8,1480.6) scale(1,1.03)" fill="#000" font-size="22" text-anchor="middle">6/12 1200</text>
<text transform="translate(1307.8,1480.6) scale(1,1.03)" fill="#000" font-size="22" text-anchor="middle">6/12 1800</text>
<text transform="translate(1140.5,1506.2) scale(1,1.03)" fill="#000" font-size="22" text-anchor="middle">2015</text>
<text transform="translate(747.7,1008.0) scale(1,1.0)" fill="#000" font-size="27" text-anchor="start">(e)</text>
</g>
<path d="M387.2,486.0 L387.2,400.5 M375.2,423.5 L387.2,400.5 L399.2,423.5" fill="none" stroke="#000" stroke-width="4" stroke-linejoin="round" stroke-linecap="round"/>
<text transform="translate(374.5,496.0) scale(1,1.03)" fill="#000" font-size="25" text-anchor="middle">B</text>
<path d="M424.8,486.0 L424.8,400.5 M412.8,423.5 L424.8,400.5 L436.8,423.5" fill="none" stroke="#000" stroke-width="4" stroke-linejoin="round" stroke-linecap="round"/>
<text transform="translate(438.0,496.0) scale(1,1.03)" fill="#000" font-size="25" text-anchor="middle">A</text>
<path d="M654.5,486.0 L654.5,400.5 M642.5,423.5 L654.5,400.5 L666.5,423.5" fill="none" stroke="#000" stroke-width="4" stroke-linejoin="round" stroke-linecap="round"/>
<text transform="translate(640.0,496.0) scale(1,1.03)" fill="#000" font-size="25" text-anchor="middle">D</text>
<path d="M659.5,486.0 L659.5,400.5 M647.5,423.5 L659.5,400.5 L671.5,423.5" fill="none" stroke="#000" stroke-width="4" stroke-linejoin="round" stroke-linecap="round"/>
<text transform="translate(670.5,496.0) scale(1,1.03)" fill="#000" font-size="25" text-anchor="middle">C</text>
<path d="M865.8,486.0 L865.8,400.5 M853.8,423.5 L865.8,400.5 L877.8,423.5" fill="none" stroke="#000" stroke-width="4" stroke-linejoin="round" stroke-linecap="round"/>
<text transform="translate(850.0,496.0) scale(1,1.03)" fill="#000" font-size="25" text-anchor="middle">F</text>
<path d="M905.5,486.0 L905.5,400.5 M893.5,423.5 L905.5,400.5 L917.5,423.5" fill="none" stroke="#000" stroke-width="4" stroke-linejoin="round" stroke-linecap="round"/>
<text transform="translate(925.0,496.0) scale(1,1.03)" fill="#000" font-size="25" text-anchor="middle">E</text>
<path d="M1107.0,486.0 L1107.0,400.5 M1095.0,423.5 L1107.0,400.5 L1119.0,423.5" fill="none" stroke="#000" stroke-width="4" stroke-linejoin="round" stroke-linecap="round"/>
<text transform="translate(1089.0,496.0) scale(1,1.03)" fill="#000" font-size="25" text-anchor="middle">H</text>
<path d="M1154.6,486.0 L1154.6,400.5 M1142.6,423.5 L1154.6,400.5 L1166.6,423.5" fill="none" stroke="#000" stroke-width="4" stroke-linejoin="round" stroke-linecap="round"/>
<text transform="translate(1169.0,496.0) scale(1,1.03)" fill="#000" font-size="25" text-anchor="middle">G</text>
<path d="M1331.0,776.0 L1331.0,861.5 M1319.5,839.5 L1331.0,861.5 L1342.5,839.5" fill="none" stroke="#000" stroke-width="3.2" stroke-linejoin="round" stroke-linecap="round"/>
<text transform="translate(1347.0,778.0) scale(1,1.03)" fill="#000" font-size="25" text-anchor="middle">J</text>
<path d="M556.4,1261.0 L556.4,1348.0 M544.9,1326.0 L556.4,1348.0 L567.9,1326.0" fill="none" stroke="#000" stroke-width="3.2" stroke-linejoin="round" stroke-linecap="round"/>
<text transform="translate(575.0,1277.0) scale(1,1.03)" fill="#000" font-size="25" text-anchor="middle">K</text>
<path d="M1069.4,1287.0 L1069.4,1372.0 M1057.9,1350.0 L1069.4,1372.0 L1080.9,1350.0" fill="none" stroke="#000" stroke-width="3.2" stroke-linejoin="round" stroke-linecap="round"/>
<text transform="translate(1050.6,1280.5) scale(1,1.03)" fill="#000" font-size="25" text-anchor="middle">L</text>
<path d="M1281.8,1288.0 L1281.8,1373.0 M1270.3,1351.0 L1281.8,1373.0 L1293.3,1351.0" fill="none" stroke="#000" stroke-width="3.2" stroke-linejoin="round" stroke-linecap="round"/>
<text transform="translate(1279.3,1280.0) scale(1,1.03)" fill="#000" font-size="25" text-anchor="middle">M</text>
<g id="legend">
<path d="M1506.5,1025 L1645.2,1025" stroke="#c2c2c2" stroke-width="1.7" fill="none"/>
<path d="M1506.5,1024.2 L1506.5,1479 L1645.2,1479" stroke="#777" stroke-width="1.5" fill="none"/>
<line x1="1522.3" y1="1060.6" x2="1585.6" y2="1060.6" stroke="#168c36" stroke-width="3.4" stroke-linecap="round"/>
<text transform="translate(1601.0,1067.9) scale(1,1.03)" fill="#000" font-size="22" text-anchor="start">c1</text>
<line x1="1522.3" y1="1093.1" x2="1585.6" y2="1093.1" stroke="#168c36" stroke-width="3.4" stroke-dasharray="11.4 20.2" stroke-linecap="round"/>
<text transform="translate(1601.0,1100.4) scale(1,1.03)" fill="#000" font-size="22" text-anchor="start">c2</text>
<line x1="1522.3" y1="1125.7" x2="1585.6" y2="1125.7" stroke="#168c36" stroke-width="3.4" stroke-dasharray="0.4 7.55" stroke-linecap="round"/>
<text transform="translate(1601.0,1133.0) scale(1,1.03)" fill="#000" font-size="22" text-anchor="start">c3</text>
<line x1="1522.3" y1="1158.2" x2="1585.6" y2="1158.2" stroke="#168c36" stroke-width="1.0" stroke-opacity="0.72"/>
<text transform="translate(1601.0,1165.5) scale(1,1.03)" fill="#000" font-size="22" text-anchor="start">c4</text>
<line x1="1522.3" y1="1190.7" x2="1585.6" y2="1190.7" stroke="#0c0ce6" stroke-width="3.4" stroke-linecap="round"/>
<text transform="translate(1601.0,1198.0) scale(1,1.03)" fill="#000" font-size="22" text-anchor="start">U1</text>
<line x1="1522.3" y1="1223.2" x2="1585.6" y2="1223.2" stroke="#0c0ce6" stroke-width="3.4" stroke-dasharray="11.4 20.2" stroke-linecap="round"/>
<text transform="translate(1601.0,1230.5) scale(1,1.03)" fill="#000" font-size="22" text-anchor="start">U2</text>
<line x1="1522.3" y1="1255.8" x2="1585.6" y2="1255.8" stroke="#0c0ce6" stroke-width="3.4" stroke-dasharray="0.4 7.55" stroke-linecap="round"/>
<text transform="translate(1601.0,1263.1) scale(1,1.03)" fill="#000" font-size="22" text-anchor="start">U3</text>
<line x1="1522.3" y1="1288.3" x2="1585.6" y2="1288.3" stroke="#0c0ce6" stroke-width="1.0" stroke-opacity="0.85"/>
<text transform="translate(1601.0,1295.6) scale(1,1.03)" fill="#000" font-size="22" text-anchor="start">U4</text>
<line x1="1522.3" y1="1320.8" x2="1585.6" y2="1320.8" stroke="#f40000" stroke-width="3.4" stroke-linecap="round"/>
<text transform="translate(1601.0,1328.1) scale(1,1.03)" fill="#000" font-size="22" text-anchor="start">F1</text>
<line x1="1522.3" y1="1353.4" x2="1585.6" y2="1353.4" stroke="#f40000" stroke-width="3.4" stroke-dasharray="11.4 20.2" stroke-linecap="round"/>
<text transform="translate(1601.0,1360.7) scale(1,1.03)" fill="#000" font-size="22" text-anchor="start">F2</text>
<line x1="1522.3" y1="1385.9" x2="1585.6" y2="1385.9" stroke="#f40000" stroke-width="3.4" stroke-dasharray="0.4 7.55" stroke-linecap="round"/>
<text transform="translate(1601.0,1393.2) scale(1,1.03)" fill="#000" font-size="22" text-anchor="start">F3</text>
<line x1="1522.3" y1="1418.4" x2="1585.6" y2="1418.4" stroke="#f40000" stroke-width="1.0" stroke-opacity="0.85"/>
<text transform="translate(1601.0,1425.7) scale(1,1.03)" fill="#000" font-size="22" text-anchor="start">F4</text>
<line x1="1522.3" y1="1451.0" x2="1585.6" y2="1451.0" stroke="#000000" stroke-width="3.4" stroke-linecap="round"/>
<text transform="translate(1601.0,1458.3) scale(1,1.03)" fill="#000" font-size="22" text-anchor="start">G</text>
</g>
</svg>
</body></html>
